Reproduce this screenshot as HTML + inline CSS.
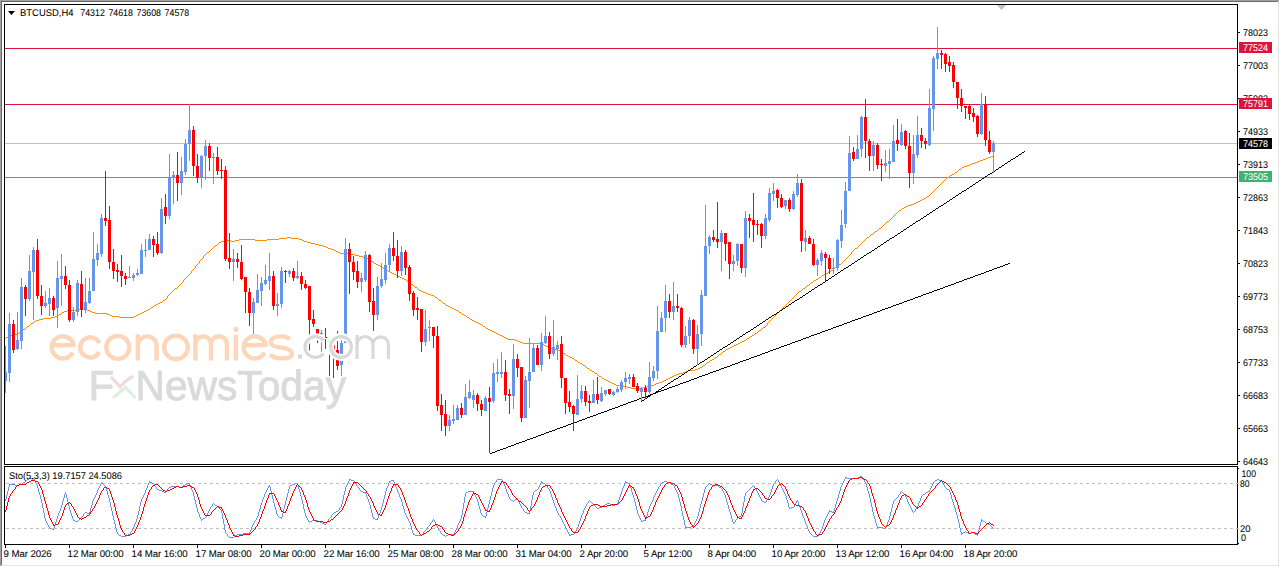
<!DOCTYPE html>
<html><head><meta charset="utf-8"><style>
html,body{margin:0;padding:0;background:#fff;width:1280px;height:567px;overflow:hidden}
text{font-family:"Liberation Sans",sans-serif;text-rendering:geometricPrecision}
.sm{stroke-width:0.2px}
.tl{letter-spacing:-0.1px}
</style></head><body>
<svg width="1280" height="567" viewBox="0 0 1280 567" style="display:block;font-family:'Liberation Sans', sans-serif">
<rect x="0" y="0" width="1280" height="567" fill="#ffffff" />
<rect x="0" y="0" width="1279" height="1" fill="#a0a0a0" />
<rect x="0" y="0" width="1" height="566" fill="#a0a0a0" />
<rect x="1" y="1" width="1277" height="1" fill="#696969" />
<rect x="1" y="1" width="1" height="564" fill="#696969" />
<rect x="1278" y="1" width="1" height="565" fill="#e3e3e3" />
<rect x="1" y="565" width="1278" height="1" fill="#e3e3e3" />
<g shape-rendering="crispEdges">
<rect x="5" y="48" width="1232" height="1" fill="#dc143c" />
<rect x="5" y="104" width="1232" height="1" fill="#dc143c" />
<rect x="5" y="143" width="1232" height="1" fill="#c0c0c0" />
<rect x="5" y="177" width="1232" height="1" fill="#3cb371" />
</g>
<polygon points="997,5 1006,5 1001.5,10" fill="#c0c0c0"/>
<g shape-rendering="crispEdges">
<path fill="#ff8c00" d="M991,156h3v1h-3zM988,157h3v1h-3zM986,158h2v1h-2zM983,159h3v1h-3zM980,160h3v1h-3zM978,161h2v1h-2zM975,162h3v1h-3zM972,163h3v1h-3zM970,164h2v1h-2zM967,165h3v1h-3zM964,166h3v1h-3zM962,167h2v1h-2zM961,168h1v1h-1zM959,169h2v1h-2zM958,170h1v1h-1zM957,171h1v1h-1zM955,172h2v1h-2zM954,173h1v1h-1zM952,174h2v1h-2zM950,175h2v1h-2zM949,176h1v1h-1zM947,177h2v1h-2zM946,178h1v1h-1zM945,179h1v1h-1zM944,180h1v1h-1zM943,181h1v1h-1zM942,182h1v1h-1zM941,183h1v1h-1zM940,184h1v1h-1zM939,185h1v1h-1zM938,186h1v1h-1zM937,187h1v1h-1zM936,188h1v1h-1zM935,189h1v1h-1zM934,190h1v1h-1zM933,191h1v1h-1zM932,192h1v1h-1zM931,193h1v1h-1zM930,194h1v1h-1zM929,195h1v1h-1zM927,196h2v1h-2zM926,197h1v1h-1zM924,198h2v1h-2zM922,199h2v1h-2zM920,200h2v1h-2zM918,201h2v1h-2zM916,202h2v1h-2zM914,203h2v1h-2zM911,204h3v1h-3zM908,205h3v1h-3zM906,206h2v1h-2zM904,207h2v1h-2zM902,208h2v1h-2zM901,209h1v1h-1zM899,210h2v1h-2zM898,211h1v1h-1zM897,212h1v1h-1zM896,213h1v1h-1zM895,214h1v1h-1zM894,215h1v1h-1zM893,216h1v1h-1zM892,217h1v1h-1zM891,218h1v1h-1zM890,219h1v1h-1zM889,220h1v1h-1zM887,221h2v1h-2zM886,222h1v1h-1zM885,223h1v1h-1zM884,224h1v1h-1zM883,225h1v1h-1zM882,226h1v1h-1zM881,227h1v1h-1zM879,228h2v1h-2zM878,229h1v1h-1zM877,230h1v1h-1zM875,231h2v1h-2zM874,232h1v1h-1zM873,233h1v1h-1zM871,234h2v1h-2zM870,235h1v1h-1zM869,236h1v1h-1zM287,237h4v1h-4zM867,237h2v1h-2zM279,238h8v1h-8zM291,238h8v1h-8zM866,238h1v1h-1zM239,239h16v1h-16zM267,239h12v1h-12zM299,239h3v1h-3zM865,239h1v1h-1zM227,240h4v1h-4zM235,240h4v1h-4zM255,240h12v1h-12zM302,240h2v1h-2zM864,240h1v1h-1zM221,241h6v1h-6zM231,241h4v1h-4zM304,241h3v1h-3zM863,241h1v1h-1zM219,242h2v1h-2zM307,242h4v1h-4zM862,242h1v1h-1zM218,243h1v1h-1zM311,243h4v1h-4zM861,243h1v1h-1zM217,244h1v1h-1zM315,244h4v1h-4zM860,244h1v1h-1zM215,245h2v1h-2zM319,245h4v1h-4zM859,245h1v1h-1zM214,246h1v1h-1zM323,246h3v1h-3zM858,246h1v1h-1zM213,247h1v1h-1zM326,247h2v1h-2zM857,247h1v1h-1zM212,248h1v1h-1zM328,248h3v1h-3zM855,248h2v1h-2zM211,249h1v1h-1zM331,249h3v1h-3zM854,249h1v1h-1zM210,250h1v1h-1zM334,250h2v1h-2zM853,250h1v1h-1zM209,251h1v1h-1zM336,251h2v1h-2zM852,251h1v1h-1zM207,252h2v1h-2zM338,252h2v1h-2zM851,252h1v1h-1zM206,253h1v1h-1zM340,253h11v1h-11zM851,253h1v1h-1zM205,254h1v1h-1zM351,254h4v1h-4zM850,254h1v1h-1zM204,255h1v1h-1zM355,255h4v1h-4zM849,255h1v1h-1zM203,256h1v1h-1zM359,256h4v1h-4zM848,256h1v1h-1zM203,257h1v1h-1zM363,257h3v1h-3zM847,257h1v1h-1zM202,258h1v1h-1zM366,258h2v1h-2zM846,258h1v1h-1zM201,259h1v1h-1zM368,259h2v1h-2zM845,259h1v1h-1zM200,260h1v1h-1zM370,260h1v1h-1zM844,260h1v1h-1zM199,261h1v1h-1zM371,261h2v1h-2zM843,261h1v1h-1zM199,262h1v1h-1zM373,262h1v1h-1zM842,262h1v1h-1zM198,263h1v1h-1zM374,263h2v1h-2zM841,263h1v1h-1zM197,264h1v1h-1zM376,264h2v1h-2zM839,264h2v1h-2zM196,265h1v1h-1zM378,265h2v1h-2zM838,265h1v1h-1zM195,266h1v1h-1zM380,266h2v1h-2zM837,266h1v1h-1zM195,267h1v1h-1zM382,267h1v1h-1zM835,267h2v1h-2zM194,268h1v1h-1zM383,268h2v1h-2zM834,268h1v1h-1zM193,269h1v1h-1zM385,269h1v1h-1zM833,269h1v1h-1zM192,270h1v1h-1zM386,270h2v1h-2zM831,270h2v1h-2zM191,271h1v1h-1zM388,271h2v1h-2zM830,271h1v1h-1zM191,272h1v1h-1zM390,272h2v1h-2zM828,272h2v1h-2zM190,273h1v1h-1zM392,273h2v1h-2zM826,273h2v1h-2zM189,274h1v1h-1zM394,274h2v1h-2zM824,274h2v1h-2zM188,275h1v1h-1zM396,275h2v1h-2zM822,275h2v1h-2zM187,276h1v1h-1zM398,276h2v1h-2zM821,276h1v1h-1zM186,277h1v1h-1zM400,277h2v1h-2zM819,277h2v1h-2zM185,278h1v1h-1zM402,278h2v1h-2zM818,278h1v1h-1zM184,279h1v1h-1zM404,279h2v1h-2zM816,279h2v1h-2zM183,280h1v1h-1zM406,280h1v1h-1zM814,280h2v1h-2zM183,281h1v1h-1zM407,281h2v1h-2zM813,281h1v1h-1zM182,282h1v1h-1zM409,282h1v1h-1zM811,282h2v1h-2zM181,283h1v1h-1zM410,283h1v1h-1zM810,283h1v1h-1zM180,284h1v1h-1zM411,284h2v1h-2zM809,284h1v1h-1zM179,285h1v1h-1zM413,285h1v1h-1zM807,285h2v1h-2zM178,286h1v1h-1zM414,286h1v1h-1zM806,286h1v1h-1zM177,287h1v1h-1zM415,287h2v1h-2zM805,287h1v1h-1zM175,288h2v1h-2zM417,288h1v1h-1zM803,288h2v1h-2zM174,289h1v1h-1zM418,289h1v1h-1zM802,289h1v1h-1zM173,290h1v1h-1zM419,290h2v1h-2zM801,290h1v1h-1zM172,291h1v1h-1zM421,291h2v1h-2zM799,291h2v1h-2zM171,292h1v1h-1zM423,292h3v1h-3zM798,292h1v1h-1zM170,293h1v1h-1zM426,293h2v1h-2zM797,293h1v1h-1zM169,294h1v1h-1zM428,294h3v1h-3zM796,294h1v1h-1zM168,295h1v1h-1zM431,295h3v1h-3zM795,295h1v1h-1zM167,296h1v1h-1zM434,296h1v1h-1zM794,296h1v1h-1zM167,297h1v1h-1zM435,297h2v1h-2zM793,297h1v1h-1zM166,298h1v1h-1zM437,298h1v1h-1zM792,298h1v1h-1zM165,299h1v1h-1zM438,299h1v1h-1zM791,299h1v1h-1zM163,300h2v1h-2zM439,300h2v1h-2zM790,300h1v1h-1zM162,301h1v1h-1zM441,301h1v1h-1zM789,301h1v1h-1zM160,302h2v1h-2zM442,302h1v1h-1zM788,302h1v1h-1zM158,303h2v1h-2zM443,303h2v1h-2zM787,303h1v1h-1zM156,304h2v1h-2zM445,304h1v1h-1zM786,304h1v1h-1zM154,305h2v1h-2zM446,305h2v1h-2zM785,305h1v1h-1zM153,306h1v1h-1zM448,306h2v1h-2zM784,306h1v1h-1zM151,307h2v1h-2zM450,307h2v1h-2zM783,307h1v1h-1zM150,308h1v1h-1zM452,308h2v1h-2zM782,308h1v1h-1zM79,309h8v1h-8zM148,309h2v1h-2zM454,309h2v1h-2zM781,309h1v1h-1zM67,310h12v1h-12zM87,310h3v1h-3zM146,310h2v1h-2zM456,310h2v1h-2zM780,310h1v1h-1zM64,311h3v1h-3zM90,311h2v1h-2zM144,311h2v1h-2zM458,311h1v1h-1zM779,311h1v1h-1zM62,312h2v1h-2zM92,312h3v1h-3zM142,312h2v1h-2zM459,312h2v1h-2zM778,312h1v1h-1zM61,313h1v1h-1zM95,313h12v1h-12zM140,313h2v1h-2zM461,313h1v1h-1zM777,313h1v1h-1zM59,314h2v1h-2zM107,314h3v1h-3zM138,314h2v1h-2zM462,314h2v1h-2zM776,314h1v1h-1zM58,315h1v1h-1zM110,315h2v1h-2zM136,315h2v1h-2zM464,315h2v1h-2zM775,315h1v1h-1zM55,316h3v1h-3zM112,316h7v1h-7zM134,316h2v1h-2zM466,316h1v1h-1zM774,316h1v1h-1zM51,317h4v1h-4zM119,317h15v1h-15zM467,317h2v1h-2zM773,317h1v1h-1zM43,318h8v1h-8zM469,318h1v1h-1zM772,318h1v1h-1zM39,319h4v1h-4zM470,319h2v1h-2zM771,319h1v1h-1zM36,320h3v1h-3zM472,320h2v1h-2zM770,320h1v1h-1zM34,321h2v1h-2zM474,321h2v1h-2zM769,321h1v1h-1zM33,322h1v1h-1zM476,322h2v1h-2zM768,322h1v1h-1zM31,323h2v1h-2zM478,323h2v1h-2zM767,323h1v1h-1zM30,324h1v1h-1zM480,324h2v1h-2zM767,324h1v1h-1zM29,325h1v1h-1zM482,325h1v1h-1zM766,325h1v1h-1zM27,326h2v1h-2zM483,326h2v1h-2zM765,326h1v1h-1zM26,327h1v1h-1zM485,327h1v1h-1zM763,327h2v1h-2zM25,328h1v1h-1zM486,328h2v1h-2zM762,328h1v1h-1zM23,329h2v1h-2zM488,329h2v1h-2zM761,329h1v1h-1zM22,330h1v1h-1zM490,330h2v1h-2zM759,330h2v1h-2zM21,331h1v1h-1zM492,331h2v1h-2zM758,331h1v1h-1zM19,332h2v1h-2zM494,332h2v1h-2zM757,332h1v1h-1zM18,333h1v1h-1zM496,333h2v1h-2zM755,333h2v1h-2zM15,334h3v1h-3zM498,334h2v1h-2zM754,334h1v1h-1zM11,335h4v1h-4zM500,335h2v1h-2zM752,335h2v1h-2zM8,336h3v1h-3zM502,336h2v1h-2zM750,336h2v1h-2zM6,337h2v1h-2zM504,337h2v1h-2zM749,337h1v1h-1zM5,338h1v1h-1zM506,338h2v1h-2zM747,338h2v1h-2zM508,339h7v1h-7zM746,339h1v1h-1zM515,340h3v1h-3zM744,340h2v1h-2zM518,341h2v1h-2zM742,341h2v1h-2zM520,342h3v1h-3zM740,342h2v1h-2zM523,343h19v1h-19zM738,343h2v1h-2zM542,344h2v1h-2zM736,344h2v1h-2zM544,345h2v1h-2zM734,345h2v1h-2zM546,346h2v1h-2zM732,346h2v1h-2zM548,347h3v1h-3zM730,347h2v1h-2zM551,348h4v1h-4zM728,348h2v1h-2zM555,349h3v1h-3zM726,349h2v1h-2zM558,350h2v1h-2zM725,350h1v1h-1zM560,351h2v1h-2zM723,351h2v1h-2zM562,352h1v1h-1zM722,352h1v1h-1zM563,353h2v1h-2zM721,353h1v1h-1zM565,354h1v1h-1zM719,354h2v1h-2zM566,355h2v1h-2zM718,355h1v1h-1zM568,356h2v1h-2zM717,356h1v1h-1zM570,357h2v1h-2zM715,357h2v1h-2zM572,358h2v1h-2zM714,358h1v1h-1zM574,359h1v1h-1zM712,359h2v1h-2zM575,360h2v1h-2zM710,360h2v1h-2zM577,361h1v1h-1zM709,361h1v1h-1zM578,362h2v1h-2zM707,362h2v1h-2zM580,363h2v1h-2zM706,363h1v1h-1zM582,364h1v1h-1zM705,364h1v1h-1zM583,365h2v1h-2zM703,365h2v1h-2zM585,366h1v1h-1zM702,366h1v1h-1zM586,367h1v1h-1zM700,367h2v1h-2zM587,368h2v1h-2zM698,368h2v1h-2zM589,369h1v1h-1zM695,369h3v1h-3zM590,370h2v1h-2zM688,370h7v1h-7zM592,371h2v1h-2zM686,371h2v1h-2zM594,372h1v1h-1zM683,372h3v1h-3zM595,373h2v1h-2zM679,373h4v1h-4zM597,374h1v1h-1zM676,374h3v1h-3zM598,375h1v1h-1zM674,375h2v1h-2zM599,376h2v1h-2zM672,376h2v1h-2zM601,377h1v1h-1zM670,377h2v1h-2zM602,378h2v1h-2zM668,378h2v1h-2zM604,379h2v1h-2zM666,379h2v1h-2zM606,380h2v1h-2zM664,380h2v1h-2zM608,381h2v1h-2zM662,381h2v1h-2zM610,382h2v1h-2zM659,382h3v1h-3zM612,383h2v1h-2zM656,383h3v1h-3zM614,384h2v1h-2zM654,384h2v1h-2zM616,385h7v1h-7zM651,385h3v1h-3zM623,386h4v1h-4zM647,386h4v1h-4zM627,387h4v1h-4zM643,387h4v1h-4zM631,388h12v1h-12z"/>
<path fill="#000" d="M1008,263h2v1h-2zM1005,264h3v1h-3zM1003,265h2v1h-2zM1000,266h3v1h-3zM997,267h3v1h-3zM994,268h3v1h-3zM992,269h2v1h-2zM989,270h3v1h-3zM986,271h3v1h-3zM984,272h2v1h-2zM981,273h3v1h-3zM978,274h3v1h-3zM975,275h3v1h-3zM973,276h2v1h-2zM970,277h3v1h-3zM967,278h3v1h-3zM964,279h3v1h-3zM962,280h2v1h-2zM959,281h3v1h-3zM956,282h3v1h-3zM954,283h2v1h-2zM951,284h3v1h-3zM948,285h3v1h-3zM945,286h3v1h-3zM943,287h2v1h-2zM940,288h3v1h-3zM937,289h3v1h-3zM934,290h3v1h-3zM932,291h2v1h-2zM929,292h3v1h-3zM926,293h3v1h-3zM923,294h3v1h-3zM921,295h2v1h-2zM918,296h3v1h-3zM915,297h3v1h-3zM913,298h2v1h-2zM910,299h3v1h-3zM907,300h3v1h-3zM904,301h3v1h-3zM902,302h2v1h-2zM899,303h3v1h-3zM896,304h3v1h-3zM893,305h3v1h-3zM891,306h2v1h-2zM888,307h3v1h-3zM885,308h3v1h-3zM882,309h3v1h-3zM880,310h2v1h-2zM877,311h3v1h-3zM874,312h3v1h-3zM872,313h2v1h-2zM869,314h3v1h-3zM866,315h3v1h-3zM863,316h3v1h-3zM861,317h2v1h-2zM858,318h3v1h-3zM855,319h3v1h-3zM852,320h3v1h-3zM850,321h2v1h-2zM847,322h3v1h-3zM844,323h3v1h-3zM842,324h2v1h-2zM839,325h3v1h-3zM836,326h3v1h-3zM833,327h3v1h-3zM831,328h2v1h-2zM828,329h3v1h-3zM825,330h3v1h-3zM822,331h3v1h-3zM820,332h2v1h-2zM817,333h3v1h-3zM814,334h3v1h-3zM811,335h3v1h-3zM809,336h2v1h-2zM806,337h3v1h-3zM803,338h3v1h-3zM801,339h2v1h-2zM798,340h3v1h-3zM795,341h3v1h-3zM792,342h3v1h-3zM790,343h2v1h-2zM787,344h3v1h-3zM784,345h3v1h-3zM781,346h3v1h-3zM779,347h2v1h-2zM776,348h3v1h-3zM773,349h3v1h-3zM770,350h3v1h-3zM768,351h2v1h-2zM765,352h3v1h-3zM762,353h3v1h-3zM760,354h2v1h-2zM757,355h3v1h-3zM754,356h3v1h-3zM751,357h3v1h-3zM749,358h2v1h-2zM746,359h3v1h-3zM743,360h3v1h-3zM740,361h3v1h-3zM738,362h2v1h-2zM735,363h3v1h-3zM732,364h3v1h-3zM730,365h2v1h-2zM727,366h3v1h-3zM724,367h3v1h-3zM721,368h3v1h-3zM719,369h2v1h-2zM716,370h3v1h-3zM713,371h3v1h-3zM710,372h3v1h-3zM708,373h2v1h-2zM705,374h3v1h-3zM702,375h3v1h-3zM699,376h3v1h-3zM697,377h2v1h-2zM694,378h3v1h-3zM691,379h3v1h-3zM689,380h2v1h-2zM686,381h3v1h-3zM683,382h3v1h-3zM680,383h3v1h-3zM678,384h2v1h-2zM675,385h3v1h-3zM672,386h3v1h-3zM669,387h3v1h-3zM667,388h2v1h-2zM664,389h3v1h-3zM661,390h3v1h-3zM658,391h3v1h-3zM656,392h2v1h-2zM653,393h3v1h-3zM650,394h3v1h-3zM648,395h2v1h-2zM645,396h3v1h-3zM642,397h3v1h-3zM639,398h3v1h-3zM637,399h2v1h-2zM634,400h3v1h-3zM631,401h3v1h-3zM628,402h3v1h-3zM626,403h2v1h-2zM623,404h3v1h-3zM620,405h3v1h-3zM618,406h2v1h-2zM615,407h3v1h-3zM612,408h3v1h-3zM609,409h3v1h-3zM607,410h2v1h-2zM604,411h3v1h-3zM601,412h3v1h-3zM598,413h3v1h-3zM596,414h2v1h-2zM593,415h3v1h-3zM590,416h3v1h-3zM587,417h3v1h-3zM585,418h2v1h-2zM582,419h3v1h-3zM579,420h3v1h-3zM577,421h2v1h-2zM574,422h3v1h-3zM571,423h3v1h-3zM568,424h3v1h-3zM566,425h2v1h-2zM563,426h3v1h-3zM560,427h3v1h-3zM557,428h3v1h-3zM555,429h2v1h-2zM552,430h3v1h-3zM549,431h3v1h-3zM546,432h3v1h-3zM544,433h2v1h-2zM541,434h3v1h-3zM538,435h3v1h-3zM536,436h2v1h-2zM533,437h3v1h-3zM530,438h3v1h-3zM527,439h3v1h-3zM525,440h2v1h-2zM522,441h3v1h-3zM519,442h3v1h-3zM516,443h3v1h-3zM514,444h2v1h-2zM511,445h3v1h-3zM508,446h3v1h-3zM506,447h2v1h-2zM503,448h3v1h-3zM500,449h3v1h-3zM497,450h3v1h-3zM495,451h2v1h-2zM492,452h3v1h-3zM490,453h2v1h-2z"/>
<path fill="#000" d="M1024,151h1v1h-1zM1022,152h2v1h-2zM1021,153h1v1h-1zM1019,154h2v1h-2zM1018,155h1v1h-1zM1016,156h2v1h-2zM1015,157h1v1h-1zM1013,158h2v1h-2zM1011,159h2v1h-2zM1010,160h1v1h-1zM1008,161h2v1h-2zM1007,162h1v1h-1zM1005,163h2v1h-2zM1004,164h1v1h-1zM1002,165h2v1h-2zM1001,166h1v1h-1zM999,167h2v1h-2zM998,168h1v1h-1zM996,169h2v1h-2zM995,170h1v1h-1zM993,171h2v1h-2zM992,172h1v1h-1zM990,173h2v1h-2zM988,174h2v1h-2zM987,175h1v1h-1zM985,176h2v1h-2zM984,177h1v1h-1zM982,178h2v1h-2zM981,179h1v1h-1zM979,180h2v1h-2zM978,181h1v1h-1zM976,182h2v1h-2zM975,183h1v1h-1zM973,184h2v1h-2zM972,185h1v1h-1zM970,186h2v1h-2zM969,187h1v1h-1zM967,188h2v1h-2zM966,189h1v1h-1zM964,190h2v1h-2zM962,191h2v1h-2zM961,192h1v1h-1zM959,193h2v1h-2zM958,194h1v1h-1zM956,195h2v1h-2zM955,196h1v1h-1zM953,197h2v1h-2zM952,198h1v1h-1zM950,199h2v1h-2zM949,200h1v1h-1zM947,201h2v1h-2zM946,202h1v1h-1zM944,203h2v1h-2zM943,204h1v1h-1zM941,205h2v1h-2zM939,206h2v1h-2zM938,207h1v1h-1zM936,208h2v1h-2zM935,209h1v1h-1zM933,210h2v1h-2zM932,211h1v1h-1zM930,212h2v1h-2zM929,213h1v1h-1zM927,214h2v1h-2zM926,215h1v1h-1zM924,216h2v1h-2zM923,217h1v1h-1zM921,218h2v1h-2zM920,219h1v1h-1zM918,220h2v1h-2zM916,221h2v1h-2zM915,222h1v1h-1zM913,223h2v1h-2zM912,224h1v1h-1zM910,225h2v1h-2zM909,226h1v1h-1zM907,227h2v1h-2zM906,228h1v1h-1zM904,229h2v1h-2zM903,230h1v1h-1zM901,231h2v1h-2zM900,232h1v1h-1zM898,233h2v1h-2zM897,234h1v1h-1zM895,235h2v1h-2zM894,236h1v1h-1zM892,237h2v1h-2zM890,238h2v1h-2zM889,239h1v1h-1zM887,240h2v1h-2zM886,241h1v1h-1zM884,242h2v1h-2zM883,243h1v1h-1zM881,244h2v1h-2zM880,245h1v1h-1zM878,246h2v1h-2zM877,247h1v1h-1zM875,248h2v1h-2zM874,249h1v1h-1zM872,250h2v1h-2zM871,251h1v1h-1zM869,252h2v1h-2zM867,253h2v1h-2zM866,254h1v1h-1zM864,255h2v1h-2zM863,256h1v1h-1zM861,257h2v1h-2zM860,258h1v1h-1zM858,259h2v1h-2zM857,260h1v1h-1zM855,261h2v1h-2zM854,262h1v1h-1zM852,263h2v1h-2zM851,264h1v1h-1zM849,265h2v1h-2zM848,266h1v1h-1zM846,267h2v1h-2zM844,268h2v1h-2zM843,269h1v1h-1zM841,270h2v1h-2zM840,271h1v1h-1zM838,272h2v1h-2zM837,273h1v1h-1zM835,274h2v1h-2zM834,275h1v1h-1zM832,276h2v1h-2zM831,277h1v1h-1zM829,278h2v1h-2zM828,279h1v1h-1zM826,280h2v1h-2zM825,281h1v1h-1zM823,282h2v1h-2zM822,283h1v1h-1zM820,284h2v1h-2zM818,285h2v1h-2zM817,286h1v1h-1zM815,287h2v1h-2zM814,288h1v1h-1zM812,289h2v1h-2zM811,290h1v1h-1zM809,291h2v1h-2zM808,292h1v1h-1zM806,293h2v1h-2zM805,294h1v1h-1zM803,295h2v1h-2zM802,296h1v1h-1zM800,297h2v1h-2zM799,298h1v1h-1zM797,299h2v1h-2zM795,300h2v1h-2zM794,301h1v1h-1zM792,302h2v1h-2zM791,303h1v1h-1zM789,304h2v1h-2zM788,305h1v1h-1zM786,306h2v1h-2zM785,307h1v1h-1zM783,308h2v1h-2zM782,309h1v1h-1zM780,310h2v1h-2zM779,311h1v1h-1zM777,312h2v1h-2zM776,313h1v1h-1zM774,314h2v1h-2zM772,315h2v1h-2zM771,316h1v1h-1zM769,317h2v1h-2zM768,318h1v1h-1zM766,319h2v1h-2zM765,320h1v1h-1zM763,321h2v1h-2zM762,322h1v1h-1zM760,323h2v1h-2zM759,324h1v1h-1zM757,325h2v1h-2zM756,326h1v1h-1zM754,327h2v1h-2zM753,328h1v1h-1zM751,329h2v1h-2zM750,330h1v1h-1zM748,331h2v1h-2zM746,332h2v1h-2zM745,333h1v1h-1zM743,334h2v1h-2zM742,335h1v1h-1zM740,336h2v1h-2zM739,337h1v1h-1zM737,338h2v1h-2zM736,339h1v1h-1zM734,340h2v1h-2zM733,341h1v1h-1zM731,342h2v1h-2zM730,343h1v1h-1zM728,344h2v1h-2zM727,345h1v1h-1zM725,346h2v1h-2zM723,347h2v1h-2zM722,348h1v1h-1zM720,349h2v1h-2zM719,350h1v1h-1zM717,351h2v1h-2zM716,352h1v1h-1zM714,353h2v1h-2zM713,354h1v1h-1zM711,355h2v1h-2zM710,356h1v1h-1zM708,357h2v1h-2zM707,358h1v1h-1zM705,359h2v1h-2zM704,360h1v1h-1zM702,361h2v1h-2zM700,362h2v1h-2zM699,363h1v1h-1zM697,364h2v1h-2zM696,365h1v1h-1zM694,366h2v1h-2zM693,367h1v1h-1zM691,368h2v1h-2zM690,369h1v1h-1zM688,370h2v1h-2zM687,371h1v1h-1zM685,372h2v1h-2zM684,373h1v1h-1zM682,374h2v1h-2zM681,375h1v1h-1zM679,376h2v1h-2zM678,377h1v1h-1zM676,378h2v1h-2zM674,379h2v1h-2zM673,380h1v1h-1zM671,381h2v1h-2zM670,382h1v1h-1zM668,383h2v1h-2zM667,384h1v1h-1zM665,385h2v1h-2zM664,386h1v1h-1zM662,387h2v1h-2zM661,388h1v1h-1zM659,389h2v1h-2zM658,390h1v1h-1zM656,391h2v1h-2zM655,392h1v1h-1zM653,393h2v1h-2zM651,394h2v1h-2zM650,395h1v1h-1zM648,396h2v1h-2zM647,397h1v1h-1zM645,398h2v1h-2zM644,399h1v1h-1zM642,400h2v1h-2zM641,401h1v1h-1z"/>
</g>
<g shape-rendering="crispEdges">
<path fill="#6495ed" d="M5,346h1v47h-1zM5,372h2v9h-2zM9,313h1v69h-1zM8,324h3v49h-3zM17,312h1v38h-1zM16,340h3v9h-3zM21,278h1v71h-1zM20,287h3v54h-3zM29,255h1v46h-1zM28,271h3v28h-3zM33,247h1v73h-1zM32,250h3v22h-3zM45,291h1v17h-1zM44,303h3v3h-3zM49,288h1v28h-1zM48,298h3v6h-3zM57,261h1v67h-1zM56,278h3v30h-3zM61,254h1v52h-1zM60,276h3v3h-3zM73,307h1v15h-1zM72,312h3v8h-3zM77,280h1v36h-1zM76,283h3v29h-3zM85,278h1v35h-1zM84,302h3v8h-3zM89,278h1v26h-1zM88,291h3v12h-3zM93,232h1v59h-1zM92,259h3v32h-3zM97,244h1v22h-1zM96,253h3v7h-3zM101,214h1v43h-1zM100,218h3v36h-3zM129,266h1v12h-1zM128,277h3v1h-3zM133,273h1v8h-1zM132,275h3v3h-3zM137,269h1v7h-1zM136,273h3v2h-3zM141,244h1v30h-1zM140,250h3v24h-3zM145,239h1v18h-1zM144,250h3v1h-3zM149,234h1v16h-1zM148,239h3v11h-3zM161,198h1v56h-1zM160,209h3v44h-3zM169,154h1v65h-1zM168,177h3v39h-3zM173,171h1v33h-1zM172,175h3v2h-3zM181,157h1v38h-1zM180,171h3v12h-3zM185,139h1v36h-1zM184,144h3v28h-3zM189,104h1v57h-1zM188,130h3v14h-3zM201,155h1v33h-1zM200,156h3v21h-3zM205,140h1v40h-1zM204,146h3v10h-3zM213,153h1v31h-1zM212,157h3v1h-3zM233,249h1v32h-1zM232,259h3v3h-3zM253,298h1v36h-1zM252,302h3v11h-3zM257,274h1v29h-1zM256,290h3v13h-3zM261,277h1v29h-1zM260,283h3v8h-3zM265,265h1v20h-1zM264,280h3v4h-3zM269,253h1v37h-1zM268,276h3v5h-3zM277,293h1v23h-1zM276,304h3v2h-3zM281,267h1v41h-1zM280,271h3v33h-3zM289,270h1v7h-1zM288,271h3v3h-3zM297,261h1v18h-1zM296,276h3v2h-3zM321,330h1v24h-1zM320,333h3v1h-3zM341,340h1v36h-1zM340,343h3v22h-3zM345,238h1v105h-1zM344,249h3v94h-3zM361,273h1v19h-1zM360,278h3v4h-3zM365,251h1v31h-1zM364,255h3v25h-3zM377,277h1v43h-1zM376,286h3v29h-3zM381,263h1v25h-1zM380,279h3v7h-3zM385,253h1v31h-1zM384,265h3v15h-3zM389,244h1v27h-1zM388,248h3v17h-3zM401,246h1v30h-1zM400,252h3v19h-3zM425,310h1v36h-1zM424,329h3v13h-3zM429,320h1v21h-1zM428,327h3v1h-3zM449,415h1v16h-1zM448,420h3v6h-3zM453,405h1v19h-1zM452,419h3v2h-3zM457,405h1v15h-1zM456,408h3v12h-3zM465,384h1v31h-1zM464,397h3v18h-3zM469,380h1v19h-1zM468,392h3v6h-3zM473,390h1v18h-1zM472,395h3v5h-3zM485,396h1v15h-1zM484,398h3v13h-3zM493,363h1v40h-1zM492,373h3v28h-3zM497,359h1v23h-1zM496,372h3v2h-3zM501,352h1v26h-1zM500,372h3v2h-3zM513,344h1v65h-1zM512,359h3v37h-3zM525,376h1v42h-1zM524,380h3v38h-3zM529,338h1v70h-1zM528,372h3v9h-3zM533,344h1v28h-1zM532,348h3v24h-3zM541,333h1v38h-1zM540,342h3v23h-3zM545,316h1v28h-1zM544,336h3v7h-3zM553,320h1v36h-1zM552,347h3v7h-3zM557,341h1v19h-1zM556,345h3v4h-3zM577,375h1v40h-1zM576,399h3v16h-3zM581,385h1v18h-1zM580,391h3v8h-3zM593,380h1v23h-1zM592,394h3v9h-3zM601,387h1v15h-1zM600,393h3v8h-3zM605,390h1v6h-1zM604,390h3v4h-3zM613,391h1v5h-1zM612,392h3v3h-3zM617,387h1v6h-1zM616,389h3v3h-3zM621,380h1v12h-1zM620,382h3v8h-3zM625,372h1v17h-1zM624,378h3v4h-3zM629,374h1v10h-1zM628,377h3v2h-3zM641,387h1v14h-1zM640,388h3v4h-3zM649,362h1v32h-1zM648,377h3v15h-3zM653,366h1v15h-1zM652,371h3v7h-3zM657,306h1v73h-1zM656,331h3v40h-3zM661,312h1v20h-1zM660,318h3v14h-3zM665,285h1v47h-1zM664,301h3v17h-3zM673,282h1v38h-1zM672,306h3v6h-3zM685,326h1v22h-1zM684,336h3v9h-3zM689,317h1v27h-1zM688,320h3v16h-3zM697,325h1v40h-1zM696,334h3v15h-3zM701,290h1v56h-1zM700,295h3v39h-3zM705,205h1v91h-1zM704,246h3v50h-3zM709,235h1v19h-1zM708,237h3v9h-3zM721,230h1v41h-1zM720,233h3v9h-3zM733,255h1v16h-1zM732,261h3v3h-3zM737,243h1v23h-1zM736,244h3v17h-3zM745,211h1v66h-1zM744,218h3v50h-3zM765,214h1v25h-1zM764,218h3v18h-3zM769,188h1v34h-1zM768,193h3v27h-3zM773,183h1v18h-1zM772,191h3v3h-3zM785,200h1v9h-1zM784,200h3v6h-3zM793,191h1v19h-1zM792,194h3v15h-3zM797,174h1v23h-1zM796,183h3v12h-3zM805,230h1v21h-1zM804,238h3v4h-3zM817,258h1v18h-1zM816,260h3v5h-3zM821,250h1v16h-1zM820,253h3v8h-3zM833,258h1v16h-1zM832,268h3v1h-3zM837,239h1v32h-1zM836,240h3v28h-3zM841,210h1v38h-1zM840,225h3v16h-3zM845,182h1v46h-1zM844,191h3v33h-3zM849,136h1v55h-1zM848,153h3v38h-3zM857,135h1v24h-1zM856,149h3v10h-3zM861,116h1v41h-1zM860,117h3v32h-3zM873,141h1v30h-1zM872,145h3v11h-3zM885,150h1v22h-1zM884,163h3v3h-3zM889,149h1v30h-1zM888,161h3v3h-3zM893,125h1v37h-1zM892,141h3v21h-3zM901,124h1v22h-1zM900,132h3v13h-3zM913,135h1v49h-1zM912,154h3v19h-3zM917,116h1v42h-1zM916,135h3v20h-3zM929,89h1v57h-1zM928,108h3v37h-3zM933,56h1v75h-1zM932,58h3v51h-3zM937,27h1v42h-1zM936,53h3v6h-3zM981,93h1v42h-1zM980,104h3v30h-3zM993,141h1v32h-1zM992,143h3v9h-3z"/><path fill="#ff0000" d="M13,320h1v33h-1zM12,324h3v26h-3zM25,285h1v31h-1zM24,287h3v12h-3zM37,239h1v60h-1zM36,250h3v46h-3zM41,285h1v30h-1zM40,296h3v10h-3zM53,296h1v20h-1zM52,298h3v12h-3zM65,266h1v23h-1zM64,276h3v9h-3zM69,280h1v42h-1zM68,285h3v35h-3zM81,271h1v46h-1zM80,284h3v26h-3zM105,171h1v55h-1zM104,218h3v3h-3zM109,206h1v63h-1zM108,220h3v42h-3zM113,249h1v30h-1zM112,262h3v9h-3zM117,264h1v18h-1zM116,270h3v2h-3zM121,255h1v32h-1zM120,271h3v5h-3zM125,273h1v12h-1zM124,276h3v3h-3zM153,236h1v21h-1zM152,239h3v6h-3zM157,232h1v23h-1zM156,244h3v9h-3zM165,194h1v30h-1zM164,207h3v9h-3zM177,152h1v49h-1zM176,175h3v8h-3zM193,126h1v50h-1zM192,130h3v36h-3zM197,154h1v29h-1zM196,166h3v12h-3zM209,143h1v28h-1zM208,146h3v12h-3zM217,147h1v28h-1zM216,157h3v14h-3zM221,159h1v20h-1zM220,170h3v1h-3zM225,166h1v95h-1zM224,170h3v89h-3zM229,233h1v36h-1zM228,258h3v4h-3zM237,253h1v15h-1zM236,259h3v3h-3zM241,245h1v35h-1zM240,262h3v17h-3zM245,277h1v36h-1zM244,277h3v15h-3zM249,288h1v38h-1zM248,292h3v21h-3zM273,271h1v39h-1zM272,276h3v30h-3zM285,270h1v13h-1zM284,271h3v1h-3zM293,268h1v13h-1zM292,271h3v7h-3zM301,272h1v18h-1zM300,276h3v8h-3zM305,280h1v9h-1zM304,284h3v4h-3zM309,286h1v67h-1zM308,286h3v34h-3zM313,310h1v17h-1zM312,319h3v5h-3zM317,329h1v14h-1zM316,329h3v5h-3zM325,328h1v21h-1zM324,337h3v1h-3zM329,341h1v35h-1zM328,341h3v4h-3zM333,345h1v33h-1zM332,345h3v7h-3zM337,331h1v39h-1zM336,350h3v16h-3zM349,243h1v51h-1zM348,249h3v13h-3zM353,256h1v24h-1zM352,262h3v10h-3zM357,261h1v27h-1zM356,271h3v11h-3zM369,254h1v58h-1zM368,255h3v47h-3zM373,288h1v43h-1zM372,301h3v14h-3zM393,232h1v29h-1zM392,248h3v8h-3zM397,240h1v38h-1zM396,256h3v15h-3zM405,250h1v25h-1zM404,252h3v16h-3zM409,265h1v36h-1zM408,267h3v27h-3zM413,291h1v25h-1zM412,293h3v17h-3zM417,297h1v23h-1zM416,308h3v2h-3zM421,309h1v43h-1zM420,309h3v33h-3zM433,327h1v21h-1zM432,327h3v9h-3zM437,326h1v85h-1zM436,336h3v70h-3zM441,394h1v37h-1zM440,405h3v10h-3zM445,400h1v36h-1zM444,414h3v12h-3zM461,403h1v15h-1zM460,408h3v7h-3zM477,393h1v18h-1zM476,395h3v9h-3zM481,400h1v16h-1zM480,404h3v6h-3zM489,387h1v66h-1zM488,398h3v4h-3zM505,360h1v41h-1zM504,372h3v23h-3zM509,389h1v25h-1zM508,394h3v2h-3zM517,354h1v23h-1zM516,359h3v9h-3zM521,367h1v55h-1zM520,367h3v51h-3zM537,345h1v20h-1zM536,348h3v17h-3zM549,332h1v27h-1zM548,336h3v18h-3zM561,336h1v52h-1zM560,344h3v34h-3zM565,378h1v36h-1zM564,378h3v25h-3zM569,391h1v21h-1zM568,402h3v5h-3zM573,405h1v26h-1zM572,406h3v8h-3zM585,386h1v20h-1zM584,391h3v11h-3zM589,395h1v17h-1zM588,401h3v2h-3zM597,377h1v27h-1zM596,394h3v6h-3zM609,389h1v6h-1zM608,389h3v5h-3zM633,374h1v13h-1zM632,377h3v10h-3zM637,383h1v10h-1zM636,386h3v5h-3zM645,385h1v14h-1zM644,388h3v4h-3zM669,294h1v24h-1zM668,301h3v11h-3zM677,294h1v18h-1zM676,306h3v2h-3zM681,307h1v40h-1zM680,308h3v37h-3zM693,319h1v35h-1zM692,320h3v29h-3zM713,230h1v12h-1zM712,237h3v3h-3zM717,202h1v46h-1zM716,239h3v3h-3zM725,233h1v28h-1zM724,233h3v11h-3zM729,242h1v37h-1zM728,242h3v22h-3zM741,244h1v29h-1zM740,244h3v24h-3zM749,214h1v24h-1zM748,218h3v3h-3zM753,193h1v49h-1zM752,220h3v5h-3zM757,220h1v15h-1zM756,224h3v1h-3zM761,223h1v25h-1zM760,224h3v12h-3zM777,189h1v19h-1zM776,190h3v8h-3zM781,194h1v14h-1zM780,198h3v9h-3zM789,198h1v14h-1zM788,200h3v9h-3zM801,179h1v73h-1zM800,183h3v58h-3zM809,236h1v8h-1zM808,238h3v6h-3zM813,239h1v27h-1zM812,244h3v21h-3zM825,252h1v29h-1zM824,254h3v4h-3zM829,255h1v19h-1zM828,258h3v11h-3zM853,147h1v14h-1zM852,152h3v7h-3zM865,99h1v59h-1zM864,117h3v24h-3zM869,139h1v32h-1zM868,141h3v15h-3zM877,143h1v26h-1zM876,145h3v20h-3zM881,159h1v22h-1zM880,164h3v1h-3zM897,119h1v32h-1zM896,140h3v4h-3zM905,130h1v19h-1zM904,131h3v15h-3zM909,133h1v55h-1zM908,146h3v27h-3zM921,128h1v20h-1zM920,135h3v6h-3zM925,138h1v11h-1zM924,141h3v3h-3zM941,50h1v19h-1zM940,53h3v2h-3zM945,53h1v19h-1zM944,54h3v10h-3zM949,56h1v16h-1zM948,62h3v4h-3zM953,62h1v26h-1zM952,65h3v17h-3zM957,82h1v27h-1zM956,82h3v16h-3zM961,89h1v23h-1zM960,98h3v8h-3zM965,106h1v13h-1zM964,106h3v2h-3zM969,104h1v16h-1zM968,106h3v8h-3zM973,108h1v14h-1zM972,113h3v4h-3zM977,115h1v22h-1zM976,116h3v18h-3zM985,96h1v50h-1zM984,104h3v36h-3zM989,131h1v23h-1zM988,140h3v12h-3z"/>
</g>
<filter id="wmb" x="-5%" y="-20%" width="110%" height="140%"><feGaussianBlur stdDeviation="0.45"/></filter>
<g filter="url(#wmb)" fill="none" stroke-linecap="butt">
<path d="M73.94,346.24A11.1,11.1 0 1 0 72.70,352.61M51.80,345.10H75.00M99.38,342.97A10.1,10.1 0 1 0 99.22,352.14M106.30,347.40a11.5,11.5 0 1 0 23.00,0a11.5,11.5 0 1 0 -23.00,0M137.8,334.2V360.6M137.8,345.80A9.4,9.4 0 0 1 156.6,345.80V360.6M164.20,347.40a11.8,11.8 0 1 0 23.60,0a11.8,11.8 0 1 0 -23.60,0M195.5,334.2V360.6M195.5,344.15A7.75,7.75 0 0 1 211,344.15V360.6M211,344.15A7.95,7.95 0 0 1 226.9,344.15V360.6M235.8,334.8V360.6M265.84,346.24A11.1,11.1 0 1 0 264.60,352.61M243.70,345.10H266.90M289.6,339.4C287.5,337 284.5,336.4 281.3,336.4C275,336.4 270.8,338.6 270.8,342.2C270.8,346 275.8,347 281.3,347.6C287.2,348.3 291.9,350.2 291.9,354C291.9,357.4 287.5,358.4 281.3,358.4C276.5,358.4 272.5,357.4 270.3,354.4" stroke="#fdd5b9" stroke-width="4.4"/>
<circle cx="235.8" cy="329.3" r="2.6" fill="#fdd5b9"/>
<path d="M323.60,340.60A10.4,10.4 0 1 0 323.60,353.40M330.60,347.00a10.4,10.4 0 1 0 20.80,0a10.4,10.4 0 1 0 -20.80,0M357,335.0V359.0M357,344.55A8,8 0 0 1 373,344.55V359.0M373,344.55A7.7,7.7 0 0 1 388.4,344.55V359.0" stroke="#ffffff" stroke-width="7"/>
<path d="M323.60,340.60A10.4,10.4 0 1 0 323.60,353.40M330.60,347.00a10.4,10.4 0 1 0 20.80,0a10.4,10.4 0 1 0 -20.80,0M357,335.0V359.0M357,344.55A8,8 0 0 1 373,344.55V359.0M373,344.55A7.7,7.7 0 0 1 388.4,344.55V359.0" stroke="#d8d8d8" stroke-width="3.1"/>
<rect x="297.8" y="354.4" width="4.2" height="4.2" fill="#d8d8d8"/>
</g>
<text x="88.5" y="400" font-size="42" fill="#fff" text-anchor="start" stroke="#ffffff" stroke-width="3.5">F</text>
<text x="135.5" y="400" font-size="42" fill="#fff" text-anchor="start" textLength="210.5" lengthAdjust="spacingAndGlyphs" stroke="#ffffff" stroke-width="3.5">NewsToday</text>
<g filter="url(#wmb)">
<text x="88.5" y="400" font-size="42" fill="#dcdcdc" text-anchor="start" stroke="#dcdcdc" stroke-width="0.9">F</text>
<path d="M112,378 Q117,383 120,387 Q126,380 132,377" fill="none" stroke="#f3d9d9" stroke-width="3.2" stroke-linecap="round"/>
<path d="M114,397 Q120,392 125.5,387.5 Q130,392 134.5,397" fill="none" stroke="#dcefdc" stroke-width="3.2" stroke-linecap="round"/>
<text x="135.5" y="400" font-size="42" fill="#dadada" text-anchor="start" textLength="210.5" lengthAdjust="spacingAndGlyphs" stroke="#dadada" stroke-width="0.9">NewsToday</text>
</g>
<g shape-rendering="crispEdges">
<rect x="4" y="4" width="1234" height="1" fill="#000" />
<rect x="4" y="464" width="1234" height="1" fill="#000" />
<rect x="4" y="4" width="1" height="461" fill="#000" />
<rect x="1237" y="4" width="1" height="461" fill="#000" />
<rect x="4" y="466" width="1234" height="1" fill="#000" />
<rect x="4" y="544" width="1234" height="1" fill="#000" />
<rect x="4" y="466" width="1" height="79" fill="#000" />
<rect x="1237" y="466" width="1" height="79" fill="#000" />
<rect x="1238" y="32" width="2" height="1" fill="#000" />
<rect x="1238" y="65" width="2" height="1" fill="#000" />
<rect x="1238" y="98" width="2" height="1" fill="#000" />
<rect x="1238" y="131" width="2" height="1" fill="#000" />
<rect x="1238" y="164" width="2" height="1" fill="#000" />
<rect x="1238" y="197" width="2" height="1" fill="#000" />
<rect x="1238" y="230" width="2" height="1" fill="#000" />
<rect x="1238" y="263" width="2" height="1" fill="#000" />
<rect x="1238" y="296" width="2" height="1" fill="#000" />
<rect x="1238" y="329" width="2" height="1" fill="#000" />
<rect x="1238" y="362" width="2" height="1" fill="#000" />
<rect x="1238" y="395" width="2" height="1" fill="#000" />
<rect x="1238" y="428" width="2" height="1" fill="#000" />
<rect x="1238" y="461" width="2" height="1" fill="#000" />
<rect x="1238" y="468" width="1" height="1" fill="#000" />
<rect x="1238" y="543" width="1" height="1" fill="#000" />
<path fill="#c0c0c0" d="M6,483h3v1h-3zM12,483h3v1h-3zM18,483h3v1h-3zM24,483h3v1h-3zM30,483h3v1h-3zM36,483h3v1h-3zM42,483h3v1h-3zM48,483h3v1h-3zM54,483h3v1h-3zM60,483h3v1h-3zM66,483h3v1h-3zM72,483h3v1h-3zM78,483h3v1h-3zM84,483h3v1h-3zM90,483h3v1h-3zM96,483h3v1h-3zM102,483h3v1h-3zM108,483h3v1h-3zM114,483h3v1h-3zM120,483h3v1h-3zM126,483h3v1h-3zM132,483h3v1h-3zM138,483h3v1h-3zM144,483h3v1h-3zM150,483h3v1h-3zM156,483h3v1h-3zM162,483h3v1h-3zM168,483h3v1h-3zM174,483h3v1h-3zM180,483h3v1h-3zM186,483h3v1h-3zM192,483h3v1h-3zM198,483h3v1h-3zM204,483h3v1h-3zM210,483h3v1h-3zM216,483h3v1h-3zM222,483h3v1h-3zM228,483h3v1h-3zM234,483h3v1h-3zM240,483h3v1h-3zM246,483h3v1h-3zM252,483h3v1h-3zM258,483h3v1h-3zM264,483h3v1h-3zM270,483h3v1h-3zM276,483h3v1h-3zM282,483h3v1h-3zM288,483h3v1h-3zM294,483h3v1h-3zM300,483h3v1h-3zM306,483h3v1h-3zM312,483h3v1h-3zM318,483h3v1h-3zM324,483h3v1h-3zM330,483h3v1h-3zM336,483h3v1h-3zM342,483h3v1h-3zM348,483h3v1h-3zM354,483h3v1h-3zM360,483h3v1h-3zM366,483h3v1h-3zM372,483h3v1h-3zM378,483h3v1h-3zM384,483h3v1h-3zM390,483h3v1h-3zM396,483h3v1h-3zM402,483h3v1h-3zM408,483h3v1h-3zM414,483h3v1h-3zM420,483h3v1h-3zM426,483h3v1h-3zM432,483h3v1h-3zM438,483h3v1h-3zM444,483h3v1h-3zM450,483h3v1h-3zM456,483h3v1h-3zM462,483h3v1h-3zM468,483h3v1h-3zM474,483h3v1h-3zM480,483h3v1h-3zM486,483h3v1h-3zM492,483h3v1h-3zM498,483h3v1h-3zM504,483h3v1h-3zM510,483h3v1h-3zM516,483h3v1h-3zM522,483h3v1h-3zM528,483h3v1h-3zM534,483h3v1h-3zM540,483h3v1h-3zM546,483h3v1h-3zM552,483h3v1h-3zM558,483h3v1h-3zM564,483h3v1h-3zM570,483h3v1h-3zM576,483h3v1h-3zM582,483h3v1h-3zM588,483h3v1h-3zM594,483h3v1h-3zM600,483h3v1h-3zM606,483h3v1h-3zM612,483h3v1h-3zM618,483h3v1h-3zM624,483h3v1h-3zM630,483h3v1h-3zM636,483h3v1h-3zM642,483h3v1h-3zM648,483h3v1h-3zM654,483h3v1h-3zM660,483h3v1h-3zM666,483h3v1h-3zM672,483h3v1h-3zM678,483h3v1h-3zM684,483h3v1h-3zM690,483h3v1h-3zM696,483h3v1h-3zM702,483h3v1h-3zM708,483h3v1h-3zM714,483h3v1h-3zM720,483h3v1h-3zM726,483h3v1h-3zM732,483h3v1h-3zM738,483h3v1h-3zM744,483h3v1h-3zM750,483h3v1h-3zM756,483h3v1h-3zM762,483h3v1h-3zM768,483h3v1h-3zM774,483h3v1h-3zM780,483h3v1h-3zM786,483h3v1h-3zM792,483h3v1h-3zM798,483h3v1h-3zM804,483h3v1h-3zM810,483h3v1h-3zM816,483h3v1h-3zM822,483h3v1h-3zM828,483h3v1h-3zM834,483h3v1h-3zM840,483h3v1h-3zM846,483h3v1h-3zM852,483h3v1h-3zM858,483h3v1h-3zM864,483h3v1h-3zM870,483h3v1h-3zM876,483h3v1h-3zM882,483h3v1h-3zM888,483h3v1h-3zM894,483h3v1h-3zM900,483h3v1h-3zM906,483h3v1h-3zM912,483h3v1h-3zM918,483h3v1h-3zM924,483h3v1h-3zM930,483h3v1h-3zM936,483h3v1h-3zM942,483h3v1h-3zM948,483h3v1h-3zM954,483h3v1h-3zM960,483h3v1h-3zM966,483h3v1h-3zM972,483h3v1h-3zM978,483h3v1h-3zM984,483h3v1h-3zM990,483h3v1h-3zM996,483h3v1h-3zM1002,483h3v1h-3zM1008,483h3v1h-3zM1014,483h3v1h-3zM1020,483h3v1h-3zM1026,483h3v1h-3zM1032,483h3v1h-3zM1038,483h3v1h-3zM1044,483h3v1h-3zM1050,483h3v1h-3zM1056,483h3v1h-3zM1062,483h3v1h-3zM1068,483h3v1h-3zM1074,483h3v1h-3zM1080,483h3v1h-3zM1086,483h3v1h-3zM1092,483h3v1h-3zM1098,483h3v1h-3zM1104,483h3v1h-3zM1110,483h3v1h-3zM1116,483h3v1h-3zM1122,483h3v1h-3zM1128,483h3v1h-3zM1134,483h3v1h-3zM1140,483h3v1h-3zM1146,483h3v1h-3zM1152,483h3v1h-3zM1158,483h3v1h-3zM1164,483h3v1h-3zM1170,483h3v1h-3zM1176,483h3v1h-3zM1182,483h3v1h-3zM1188,483h3v1h-3zM1194,483h3v1h-3zM1200,483h3v1h-3zM1206,483h3v1h-3zM1212,483h3v1h-3zM1218,483h3v1h-3zM1224,483h3v1h-3zM1230,483h3v1h-3zM1236,483h3v1h-3z"/>
<path fill="#c0c0c0" d="M6,528h3v1h-3zM12,528h3v1h-3zM18,528h3v1h-3zM24,528h3v1h-3zM30,528h3v1h-3zM36,528h3v1h-3zM42,528h3v1h-3zM48,528h3v1h-3zM54,528h3v1h-3zM60,528h3v1h-3zM66,528h3v1h-3zM72,528h3v1h-3zM78,528h3v1h-3zM84,528h3v1h-3zM90,528h3v1h-3zM96,528h3v1h-3zM102,528h3v1h-3zM108,528h3v1h-3zM114,528h3v1h-3zM120,528h3v1h-3zM126,528h3v1h-3zM132,528h3v1h-3zM138,528h3v1h-3zM144,528h3v1h-3zM150,528h3v1h-3zM156,528h3v1h-3zM162,528h3v1h-3zM168,528h3v1h-3zM174,528h3v1h-3zM180,528h3v1h-3zM186,528h3v1h-3zM192,528h3v1h-3zM198,528h3v1h-3zM204,528h3v1h-3zM210,528h3v1h-3zM216,528h3v1h-3zM222,528h3v1h-3zM228,528h3v1h-3zM234,528h3v1h-3zM240,528h3v1h-3zM246,528h3v1h-3zM252,528h3v1h-3zM258,528h3v1h-3zM264,528h3v1h-3zM270,528h3v1h-3zM276,528h3v1h-3zM282,528h3v1h-3zM288,528h3v1h-3zM294,528h3v1h-3zM300,528h3v1h-3zM306,528h3v1h-3zM312,528h3v1h-3zM318,528h3v1h-3zM324,528h3v1h-3zM330,528h3v1h-3zM336,528h3v1h-3zM342,528h3v1h-3zM348,528h3v1h-3zM354,528h3v1h-3zM360,528h3v1h-3zM366,528h3v1h-3zM372,528h3v1h-3zM378,528h3v1h-3zM384,528h3v1h-3zM390,528h3v1h-3zM396,528h3v1h-3zM402,528h3v1h-3zM408,528h3v1h-3zM414,528h3v1h-3zM420,528h3v1h-3zM426,528h3v1h-3zM432,528h3v1h-3zM438,528h3v1h-3zM444,528h3v1h-3zM450,528h3v1h-3zM456,528h3v1h-3zM462,528h3v1h-3zM468,528h3v1h-3zM474,528h3v1h-3zM480,528h3v1h-3zM486,528h3v1h-3zM492,528h3v1h-3zM498,528h3v1h-3zM504,528h3v1h-3zM510,528h3v1h-3zM516,528h3v1h-3zM522,528h3v1h-3zM528,528h3v1h-3zM534,528h3v1h-3zM540,528h3v1h-3zM546,528h3v1h-3zM552,528h3v1h-3zM558,528h3v1h-3zM564,528h3v1h-3zM570,528h3v1h-3zM576,528h3v1h-3zM582,528h3v1h-3zM588,528h3v1h-3zM594,528h3v1h-3zM600,528h3v1h-3zM606,528h3v1h-3zM612,528h3v1h-3zM618,528h3v1h-3zM624,528h3v1h-3zM630,528h3v1h-3zM636,528h3v1h-3zM642,528h3v1h-3zM648,528h3v1h-3zM654,528h3v1h-3zM660,528h3v1h-3zM666,528h3v1h-3zM672,528h3v1h-3zM678,528h3v1h-3zM684,528h3v1h-3zM690,528h3v1h-3zM696,528h3v1h-3zM702,528h3v1h-3zM708,528h3v1h-3zM714,528h3v1h-3zM720,528h3v1h-3zM726,528h3v1h-3zM732,528h3v1h-3zM738,528h3v1h-3zM744,528h3v1h-3zM750,528h3v1h-3zM756,528h3v1h-3zM762,528h3v1h-3zM768,528h3v1h-3zM774,528h3v1h-3zM780,528h3v1h-3zM786,528h3v1h-3zM792,528h3v1h-3zM798,528h3v1h-3zM804,528h3v1h-3zM810,528h3v1h-3zM816,528h3v1h-3zM822,528h3v1h-3zM828,528h3v1h-3zM834,528h3v1h-3zM840,528h3v1h-3zM846,528h3v1h-3zM852,528h3v1h-3zM858,528h3v1h-3zM864,528h3v1h-3zM870,528h3v1h-3zM876,528h3v1h-3zM882,528h3v1h-3zM888,528h3v1h-3zM894,528h3v1h-3zM900,528h3v1h-3zM906,528h3v1h-3zM912,528h3v1h-3zM918,528h3v1h-3zM924,528h3v1h-3zM930,528h3v1h-3zM936,528h3v1h-3zM942,528h3v1h-3zM948,528h3v1h-3zM954,528h3v1h-3zM960,528h3v1h-3zM966,528h3v1h-3zM972,528h3v1h-3zM978,528h3v1h-3zM984,528h3v1h-3zM990,528h3v1h-3zM996,528h3v1h-3zM1002,528h3v1h-3zM1008,528h3v1h-3zM1014,528h3v1h-3zM1020,528h3v1h-3zM1026,528h3v1h-3zM1032,528h3v1h-3zM1038,528h3v1h-3zM1044,528h3v1h-3zM1050,528h3v1h-3zM1056,528h3v1h-3zM1062,528h3v1h-3zM1068,528h3v1h-3zM1074,528h3v1h-3zM1080,528h3v1h-3zM1086,528h3v1h-3zM1092,528h3v1h-3zM1098,528h3v1h-3zM1104,528h3v1h-3zM1110,528h3v1h-3zM1116,528h3v1h-3zM1122,528h3v1h-3zM1128,528h3v1h-3zM1134,528h3v1h-3zM1140,528h3v1h-3zM1146,528h3v1h-3zM1152,528h3v1h-3zM1158,528h3v1h-3zM1164,528h3v1h-3zM1170,528h3v1h-3zM1176,528h3v1h-3zM1182,528h3v1h-3zM1188,528h3v1h-3zM1194,528h3v1h-3zM1200,528h3v1h-3zM1206,528h3v1h-3zM1212,528h3v1h-3zM1218,528h3v1h-3zM1224,528h3v1h-3zM1230,528h3v1h-3zM1236,528h3v1h-3z"/>
<rect x="5" y="545" width="1" height="3" fill="#000" />
<rect x="69" y="545" width="1" height="3" fill="#000" />
<rect x="133" y="545" width="1" height="3" fill="#000" />
<rect x="197" y="545" width="1" height="3" fill="#000" />
<rect x="261" y="545" width="1" height="3" fill="#000" />
<rect x="325" y="545" width="1" height="3" fill="#000" />
<rect x="389" y="545" width="1" height="3" fill="#000" />
<rect x="453" y="545" width="1" height="3" fill="#000" />
<rect x="517" y="545" width="1" height="3" fill="#000" />
<rect x="581" y="545" width="1" height="3" fill="#000" />
<rect x="645" y="545" width="1" height="3" fill="#000" />
<rect x="709" y="545" width="1" height="3" fill="#000" />
<rect x="773" y="545" width="1" height="3" fill="#000" />
<rect x="837" y="545" width="1" height="3" fill="#000" />
<rect x="901" y="545" width="1" height="3" fill="#000" />
<rect x="965" y="545" width="1" height="3" fill="#000" />
</g>
<svg x="5" y="467" width="1232" height="77" viewBox="5 467 1232 77" overflow="hidden">
<g shape-rendering="crispEdges">
<path fill="#6495ed" d="M860,476h2v1h-2zM845,477h2v1h-2zM858,477h2v1h-2zM862,477h1v1h-1zM29,478h5v1h-5zM845,478h1v1h-1zM847,478h11v1h-11zM862,478h1v1h-1zM27,479h2v1h-2zM34,479h1v1h-1zM349,479h2v1h-2zM497,479h5v1h-5zM777,479h1v1h-1zM844,479h1v1h-1zM863,479h1v1h-1zM937,479h2v1h-2zM26,480h1v1h-1zM34,480h1v1h-1zM349,480h1v1h-1zM351,480h3v1h-3zM391,480h3v1h-3zM496,480h1v1h-1zM502,480h1v1h-1zM776,480h1v1h-1zM778,480h1v1h-1zM844,480h1v1h-1zM864,480h1v1h-1zM935,480h2v1h-2zM939,480h3v1h-3zM25,481h1v1h-1zM35,481h1v1h-1zM149,481h1v1h-1zM348,481h1v1h-1zM354,481h1v1h-1zM389,481h2v1h-2zM393,481h1v1h-1zM496,481h1v1h-1zM502,481h1v1h-1zM541,481h1v1h-1zM625,481h1v1h-1zM664,481h3v1h-3zM775,481h1v1h-1zM778,481h1v1h-1zM843,481h1v1h-1zM864,481h1v1h-1zM934,481h1v1h-1zM942,481h1v1h-1zM23,482h2v1h-2zM35,482h1v1h-1zM101,482h1v1h-1zM149,482h3v1h-3zM348,482h1v1h-1zM354,482h1v1h-1zM389,482h1v1h-1zM394,482h1v1h-1zM495,482h1v1h-1zM503,482h1v1h-1zM541,482h2v1h-2zM625,482h3v1h-3zM662,482h2v1h-2zM667,482h3v1h-3zM775,482h1v1h-1zM779,482h1v1h-1zM843,482h1v1h-1zM865,482h1v1h-1zM933,482h1v1h-1zM942,482h1v1h-1zM22,483h1v1h-1zM36,483h1v1h-1zM101,483h2v1h-2zM148,483h1v1h-1zM152,483h2v1h-2zM187,483h3v1h-3zM295,483h3v1h-3zM347,483h1v1h-1zM355,483h1v1h-1zM388,483h1v1h-1zM394,483h1v1h-1zM494,483h1v1h-1zM503,483h1v1h-1zM540,483h1v1h-1zM543,483h2v1h-2zM624,483h1v1h-1zM628,483h2v1h-2zM661,483h1v1h-1zM670,483h1v1h-1zM709,483h1v1h-1zM774,483h1v1h-1zM779,483h1v1h-1zM842,483h1v1h-1zM865,483h1v1h-1zM933,483h1v1h-1zM943,483h1v1h-1zM9,484h6v1h-6zM19,484h3v1h-3zM36,484h1v1h-1zM100,484h1v1h-1zM103,484h1v1h-1zM148,484h1v1h-1zM154,484h1v1h-1zM185,484h2v1h-2zM189,484h1v1h-1zM292,484h3v1h-3zM297,484h1v1h-1zM347,484h1v1h-1zM356,484h1v1h-1zM388,484h1v1h-1zM395,484h1v1h-1zM494,484h1v1h-1zM504,484h1v1h-1zM540,484h1v1h-1zM545,484h1v1h-1zM624,484h1v1h-1zM629,484h1v1h-1zM660,484h1v1h-1zM671,484h2v1h-2zM708,484h1v1h-1zM710,484h2v1h-2zM773,484h1v1h-1zM780,484h1v1h-1zM842,484h1v1h-1zM866,484h1v1h-1zM932,484h1v1h-1zM943,484h1v1h-1zM9,485h1v1h-1zM15,485h4v1h-4zM37,485h1v1h-1zM100,485h1v1h-1zM104,485h1v1h-1zM147,485h1v1h-1zM154,485h1v1h-1zM183,485h2v1h-2zM190,485h1v1h-1zM269,485h1v1h-1zM290,485h2v1h-2zM298,485h1v1h-1zM346,485h1v1h-1zM356,485h1v1h-1zM388,485h1v1h-1zM395,485h1v1h-1zM493,485h1v1h-1zM504,485h1v1h-1zM539,485h1v1h-1zM546,485h1v1h-1zM624,485h1v1h-1zM630,485h1v1h-1zM660,485h1v1h-1zM673,485h1v1h-1zM707,485h1v1h-1zM712,485h6v1h-6zM753,485h1v1h-1zM773,485h1v1h-1zM780,485h1v1h-1zM841,485h1v1h-1zM866,485h1v1h-1zM932,485h1v1h-1zM944,485h1v1h-1zM9,486h1v1h-1zM37,486h1v1h-1zM99,486h1v1h-1zM105,486h1v1h-1zM147,486h1v1h-1zM155,486h1v1h-1zM171,486h8v1h-8zM182,486h1v1h-1zM190,486h1v1h-1zM268,486h2v1h-2zM289,486h1v1h-1zM298,486h1v1h-1zM346,486h1v1h-1zM357,486h1v1h-1zM387,486h1v1h-1zM395,486h1v1h-1zM493,486h1v1h-1zM505,486h1v1h-1zM539,486h1v1h-1zM547,486h1v1h-1zM623,486h1v1h-1zM630,486h1v1h-1zM659,486h1v1h-1zM674,486h1v1h-1zM706,486h1v1h-1zM718,486h1v1h-1zM752,486h1v1h-1zM754,486h1v1h-1zM772,486h1v1h-1zM781,486h1v1h-1zM841,486h1v1h-1zM866,486h1v1h-1zM931,486h1v1h-1zM944,486h1v1h-1zM8,487h1v1h-1zM37,487h1v1h-1zM99,487h1v1h-1zM105,487h1v1h-1zM147,487h1v1h-1zM156,487h1v1h-1zM169,487h2v1h-2zM179,487h3v1h-3zM191,487h1v1h-1zM268,487h1v1h-1zM270,487h1v1h-1zM289,487h1v1h-1zM298,487h1v1h-1zM345,487h1v1h-1zM358,487h1v1h-1zM387,487h1v1h-1zM396,487h1v1h-1zM493,487h1v1h-1zM505,487h1v1h-1zM538,487h1v1h-1zM547,487h1v1h-1zM623,487h1v1h-1zM630,487h1v1h-1zM658,487h1v1h-1zM674,487h1v1h-1zM705,487h1v1h-1zM719,487h2v1h-2zM751,487h1v1h-1zM754,487h1v1h-1zM772,487h1v1h-1zM781,487h1v1h-1zM840,487h1v1h-1zM867,487h1v1h-1zM931,487h1v1h-1zM945,487h1v1h-1zM8,488h1v1h-1zM38,488h1v1h-1zM98,488h1v1h-1zM106,488h1v1h-1zM146,488h1v1h-1zM156,488h1v1h-1zM168,488h1v1h-1zM191,488h1v1h-1zM267,488h1v1h-1zM270,488h1v1h-1zM289,488h1v1h-1zM298,488h1v1h-1zM345,488h1v1h-1zM359,488h1v1h-1zM386,488h1v1h-1zM396,488h1v1h-1zM492,488h1v1h-1zM505,488h1v1h-1zM538,488h1v1h-1zM548,488h1v1h-1zM622,488h1v1h-1zM631,488h1v1h-1zM658,488h1v1h-1zM675,488h1v1h-1zM705,488h1v1h-1zM721,488h1v1h-1zM750,488h1v1h-1zM755,488h1v1h-1zM772,488h1v1h-1zM782,488h1v1h-1zM840,488h1v1h-1zM867,488h1v1h-1zM930,488h1v1h-1zM946,488h1v1h-1zM8,489h1v1h-1zM38,489h1v1h-1zM98,489h1v1h-1zM106,489h1v1h-1zM146,489h1v1h-1zM157,489h2v1h-2zM167,489h1v1h-1zM191,489h1v1h-1zM267,489h1v1h-1zM270,489h1v1h-1zM288,489h1v1h-1zM299,489h1v1h-1zM345,489h1v1h-1zM359,489h1v1h-1zM386,489h1v1h-1zM397,489h1v1h-1zM492,489h1v1h-1zM506,489h1v1h-1zM537,489h1v1h-1zM549,489h1v1h-1zM622,489h1v1h-1zM631,489h1v1h-1zM657,489h1v1h-1zM675,489h1v1h-1zM704,489h1v1h-1zM722,489h1v1h-1zM749,489h1v1h-1zM756,489h1v1h-1zM771,489h1v1h-1zM782,489h1v1h-1zM840,489h1v1h-1zM867,489h1v1h-1zM930,489h1v1h-1zM947,489h2v1h-2zM8,490h1v1h-1zM38,490h1v1h-1zM97,490h1v1h-1zM106,490h1v1h-1zM145,490h1v1h-1zM159,490h3v1h-3zM167,490h1v1h-1zM192,490h1v1h-1zM266,490h1v1h-1zM270,490h1v1h-1zM288,490h1v1h-1zM299,490h1v1h-1zM345,490h1v1h-1zM360,490h1v1h-1zM386,490h1v1h-1zM397,490h1v1h-1zM492,490h1v1h-1zM506,490h1v1h-1zM535,490h2v1h-2zM549,490h1v1h-1zM622,490h1v1h-1zM631,490h1v1h-1zM657,490h1v1h-1zM676,490h1v1h-1zM704,490h1v1h-1zM722,490h1v1h-1zM748,490h1v1h-1zM756,490h1v1h-1zM771,490h1v1h-1zM783,490h1v1h-1zM840,490h1v1h-1zM867,490h1v1h-1zM929,490h1v1h-1zM949,490h1v1h-1zM7,491h1v1h-1zM38,491h1v1h-1zM97,491h1v1h-1zM107,491h1v1h-1zM145,491h1v1h-1zM162,491h2v1h-2zM166,491h1v1h-1zM192,491h1v1h-1zM266,491h1v1h-1zM271,491h1v1h-1zM288,491h1v1h-1zM299,491h1v1h-1zM344,491h1v1h-1zM361,491h2v1h-2zM385,491h1v1h-1zM397,491h1v1h-1zM468,491h6v1h-6zM492,491h1v1h-1zM506,491h1v1h-1zM534,491h1v1h-1zM550,491h1v1h-1zM621,491h1v1h-1zM631,491h1v1h-1zM656,491h1v1h-1zM676,491h1v1h-1zM704,491h1v1h-1zM723,491h1v1h-1zM747,491h1v1h-1zM757,491h1v1h-1zM771,491h1v1h-1zM783,491h1v1h-1zM839,491h1v1h-1zM868,491h1v1h-1zM901,491h1v1h-1zM928,491h2v1h-2zM949,491h1v1h-1zM7,492h1v1h-1zM39,492h1v1h-1zM65,492h1v1h-1zM97,492h1v1h-1zM107,492h1v1h-1zM145,492h1v1h-1zM164,492h2v1h-2zM193,492h1v1h-1zM265,492h1v1h-1zM271,492h1v1h-1zM288,492h1v1h-1zM300,492h1v1h-1zM344,492h1v1h-1zM363,492h3v1h-3zM385,492h1v1h-1zM398,492h1v1h-1zM466,492h2v1h-2zM473,492h1v1h-1zM491,492h1v1h-1zM507,492h1v1h-1zM533,492h1v1h-1zM550,492h1v1h-1zM621,492h1v1h-1zM632,492h1v1h-1zM656,492h1v1h-1zM677,492h1v1h-1zM704,492h1v1h-1zM723,492h1v1h-1zM746,492h1v1h-1zM757,492h1v1h-1zM770,492h1v1h-1zM784,492h1v1h-1zM839,492h1v1h-1zM868,492h1v1h-1zM900,492h1v1h-1zM902,492h1v1h-1zM926,492h2v1h-2zM950,492h1v1h-1zM7,493h1v1h-1zM39,493h1v1h-1zM65,493h1v1h-1zM96,493h1v1h-1zM107,493h1v1h-1zM144,493h1v1h-1zM193,493h1v1h-1zM265,493h1v1h-1zM271,493h1v1h-1zM287,493h1v1h-1zM300,493h1v1h-1zM344,493h1v1h-1zM365,493h1v1h-1zM385,493h1v1h-1zM398,493h1v1h-1zM465,493h1v1h-1zM474,493h1v1h-1zM491,493h1v1h-1zM507,493h1v1h-1zM533,493h1v1h-1zM550,493h1v1h-1zM621,493h1v1h-1zM632,493h1v1h-1zM655,493h1v1h-1zM677,493h1v1h-1zM703,493h1v1h-1zM724,493h1v1h-1zM745,493h1v1h-1zM758,493h1v1h-1zM770,493h1v1h-1zM784,493h1v1h-1zM839,493h1v1h-1zM868,493h1v1h-1zM900,493h1v1h-1zM903,493h1v1h-1zM925,493h1v1h-1zM950,493h1v1h-1zM7,494h1v1h-1zM39,494h1v1h-1zM64,494h1v1h-1zM66,494h1v1h-1zM96,494h1v1h-1zM107,494h1v1h-1zM144,494h1v1h-1zM193,494h1v1h-1zM264,494h1v1h-1zM271,494h1v1h-1zM287,494h1v1h-1zM300,494h1v1h-1zM344,494h1v1h-1zM366,494h1v1h-1zM385,494h1v1h-1zM399,494h1v1h-1zM465,494h1v1h-1zM474,494h1v1h-1zM491,494h1v1h-1zM508,494h1v1h-1zM533,494h1v1h-1zM551,494h1v1h-1zM620,494h1v1h-1zM632,494h1v1h-1zM655,494h1v1h-1zM678,494h1v1h-1zM703,494h1v1h-1zM724,494h1v1h-1zM745,494h1v1h-1zM758,494h1v1h-1zM770,494h1v1h-1zM785,494h1v1h-1zM838,494h1v1h-1zM869,494h1v1h-1zM899,494h1v1h-1zM904,494h1v1h-1zM923,494h2v1h-2zM950,494h1v1h-1zM6,495h1v1h-1zM40,495h1v1h-1zM64,495h1v1h-1zM66,495h1v1h-1zM95,495h1v1h-1zM108,495h1v1h-1zM143,495h1v1h-1zM193,495h1v1h-1zM264,495h1v1h-1zM272,495h1v1h-1zM287,495h1v1h-1zM300,495h1v1h-1zM343,495h1v1h-1zM366,495h1v1h-1zM384,495h1v1h-1zM399,495h1v1h-1zM465,495h1v1h-1zM475,495h1v1h-1zM491,495h1v1h-1zM508,495h1v1h-1zM532,495h1v1h-1zM551,495h1v1h-1zM620,495h1v1h-1zM633,495h1v1h-1zM654,495h1v1h-1zM678,495h1v1h-1zM703,495h1v1h-1zM725,495h1v1h-1zM745,495h1v1h-1zM759,495h1v1h-1zM769,495h1v1h-1zM785,495h1v1h-1zM838,495h1v1h-1zM869,495h1v1h-1zM898,495h1v1h-1zM905,495h1v1h-1zM922,495h1v1h-1zM951,495h1v1h-1zM6,496h1v1h-1zM40,496h1v1h-1zM64,496h1v1h-1zM66,496h1v1h-1zM95,496h1v1h-1zM108,496h1v1h-1zM143,496h1v1h-1zM194,496h1v1h-1zM264,496h1v1h-1zM272,496h1v1h-1zM287,496h1v1h-1zM301,496h1v1h-1zM343,496h1v1h-1zM366,496h1v1h-1zM384,496h1v1h-1zM399,496h1v1h-1zM465,496h1v1h-1zM475,496h1v1h-1zM490,496h1v1h-1zM508,496h1v1h-1zM532,496h1v1h-1zM551,496h1v1h-1zM620,496h1v1h-1zM633,496h1v1h-1zM654,496h1v1h-1zM678,496h1v1h-1zM703,496h1v1h-1zM725,496h1v1h-1zM744,496h1v1h-1zM759,496h1v1h-1zM769,496h1v1h-1zM786,496h1v1h-1zM838,496h1v1h-1zM869,496h1v1h-1zM898,496h1v1h-1zM905,496h1v1h-1zM921,496h1v1h-1zM951,496h1v1h-1zM6,497h1v1h-1zM40,497h1v1h-1zM64,497h1v1h-1zM66,497h1v1h-1zM94,497h1v1h-1zM108,497h1v1h-1zM142,497h1v1h-1zM194,497h1v1h-1zM263,497h1v1h-1zM272,497h1v1h-1zM286,497h1v1h-1zM301,497h1v1h-1zM343,497h1v1h-1zM367,497h1v1h-1zM384,497h1v1h-1zM400,497h1v1h-1zM464,497h1v1h-1zM476,497h1v1h-1zM490,497h1v1h-1zM509,497h1v1h-1zM532,497h1v1h-1zM552,497h1v1h-1zM619,497h1v1h-1zM633,497h1v1h-1zM653,497h1v1h-1zM678,497h1v1h-1zM702,497h1v1h-1zM725,497h1v1h-1zM744,497h1v1h-1zM760,497h1v1h-1zM768,497h1v1h-1zM786,497h1v1h-1zM838,497h1v1h-1zM869,497h1v1h-1zM897,497h1v1h-1zM906,497h1v1h-1zM921,497h1v1h-1zM951,497h1v1h-1zM6,498h1v1h-1zM40,498h1v1h-1zM63,498h1v1h-1zM67,498h1v1h-1zM94,498h1v1h-1zM109,498h1v1h-1zM142,498h1v1h-1zM194,498h1v1h-1zM263,498h1v1h-1zM272,498h1v1h-1zM286,498h1v1h-1zM301,498h1v1h-1zM343,498h1v1h-1zM367,498h1v1h-1zM384,498h1v1h-1zM400,498h1v1h-1zM464,498h1v1h-1zM476,498h1v1h-1zM490,498h1v1h-1zM509,498h1v1h-1zM517,498h1v1h-1zM532,498h1v1h-1zM552,498h1v1h-1zM619,498h1v1h-1zM634,498h1v1h-1zM653,498h1v1h-1zM679,498h1v1h-1zM702,498h1v1h-1zM726,498h1v1h-1zM744,498h1v1h-1zM760,498h1v1h-1zM768,498h1v1h-1zM786,498h1v1h-1zM837,498h1v1h-1zM870,498h1v1h-1zM896,498h1v1h-1zM906,498h1v1h-1zM920,498h1v1h-1zM951,498h1v1h-1zM5,499h1v1h-1zM41,499h1v1h-1zM63,499h1v1h-1zM67,499h1v1h-1zM93,499h1v1h-1zM109,499h1v1h-1zM141,499h1v1h-1zM194,499h1v1h-1zM262,499h1v1h-1zM273,499h1v1h-1zM286,499h1v1h-1zM301,499h1v1h-1zM343,499h1v1h-1zM368,499h1v1h-1zM383,499h1v1h-1zM401,499h1v1h-1zM464,499h1v1h-1zM477,499h1v1h-1zM490,499h1v1h-1zM510,499h1v1h-1zM515,499h3v1h-3zM532,499h1v1h-1zM552,499h1v1h-1zM619,499h1v1h-1zM634,499h1v1h-1zM653,499h1v1h-1zM679,499h1v1h-1zM702,499h1v1h-1zM726,499h1v1h-1zM744,499h1v1h-1zM761,499h1v1h-1zM767,499h1v1h-1zM786,499h1v1h-1zM837,499h1v1h-1zM870,499h1v1h-1zM895,499h1v1h-1zM907,499h1v1h-1zM920,499h1v1h-1zM952,499h1v1h-1zM5,500h1v1h-1zM41,500h1v1h-1zM63,500h1v1h-1zM67,500h1v1h-1zM93,500h1v1h-1zM109,500h1v1h-1zM141,500h1v1h-1zM195,500h1v1h-1zM262,500h1v1h-1zM273,500h1v1h-1zM286,500h1v1h-1zM302,500h1v1h-1zM342,500h1v1h-1zM368,500h1v1h-1zM383,500h1v1h-1zM401,500h1v1h-1zM464,500h1v1h-1zM477,500h1v1h-1zM489,500h1v1h-1zM511,500h2v1h-2zM514,500h1v1h-1zM518,500h1v1h-1zM531,500h1v1h-1zM553,500h1v1h-1zM589,500h1v1h-1zM618,500h1v1h-1zM634,500h1v1h-1zM652,500h1v1h-1zM679,500h1v1h-1zM702,500h1v1h-1zM726,500h1v1h-1zM744,500h1v1h-1zM761,500h1v1h-1zM766,500h1v1h-1zM787,500h1v1h-1zM797,500h1v1h-1zM837,500h1v1h-1zM870,500h1v1h-1zM894,500h1v1h-1zM907,500h1v1h-1zM920,500h1v1h-1zM952,500h1v1h-1zM41,501h1v1h-1zM62,501h1v1h-1zM67,501h1v1h-1zM92,501h1v1h-1zM109,501h1v1h-1zM141,501h1v1h-1zM195,501h1v1h-1zM262,501h1v1h-1zM273,501h1v1h-1zM285,501h1v1h-1zM302,501h1v1h-1zM342,501h1v1h-1zM368,501h1v1h-1zM383,501h1v1h-1zM401,501h1v1h-1zM464,501h1v1h-1zM477,501h1v1h-1zM489,501h1v1h-1zM513,501h1v1h-1zM518,501h1v1h-1zM531,501h1v1h-1zM553,501h1v1h-1zM588,501h1v1h-1zM590,501h1v1h-1zM618,501h1v1h-1zM634,501h1v1h-1zM652,501h1v1h-1zM679,501h1v1h-1zM701,501h1v1h-1zM726,501h1v1h-1zM744,501h1v1h-1zM762,501h2v1h-2zM766,501h1v1h-1zM787,501h1v1h-1zM796,501h2v1h-2zM836,501h1v1h-1zM870,501h1v1h-1zM893,501h1v1h-1zM907,501h1v1h-1zM919,501h1v1h-1zM952,501h1v1h-1zM41,502h1v1h-1zM62,502h1v1h-1zM68,502h1v1h-1zM92,502h1v1h-1zM110,502h1v1h-1zM140,502h1v1h-1zM195,502h1v1h-1zM261,502h1v1h-1zM273,502h1v1h-1zM285,502h1v1h-1zM302,502h1v1h-1zM342,502h1v1h-1zM369,502h1v1h-1zM383,502h1v1h-1zM402,502h1v1h-1zM464,502h1v1h-1zM478,502h1v1h-1zM489,502h1v1h-1zM519,502h1v1h-1zM531,502h1v1h-1zM553,502h1v1h-1zM588,502h1v1h-1zM591,502h1v1h-1zM618,502h1v1h-1zM635,502h1v1h-1zM651,502h1v1h-1zM680,502h1v1h-1zM701,502h1v1h-1zM727,502h1v1h-1zM743,502h1v1h-1zM764,502h2v1h-2zM787,502h1v1h-1zM796,502h1v1h-1zM798,502h1v1h-1zM836,502h1v1h-1zM870,502h1v1h-1zM893,502h1v1h-1zM908,502h1v1h-1zM919,502h1v1h-1zM953,502h1v1h-1zM42,503h1v1h-1zM62,503h1v1h-1zM68,503h1v1h-1zM92,503h1v1h-1zM110,503h1v1h-1zM140,503h1v1h-1zM195,503h1v1h-1zM213,503h1v1h-1zM261,503h1v1h-1zM274,503h1v1h-1zM285,503h1v1h-1zM302,503h1v1h-1zM342,503h1v1h-1zM369,503h1v1h-1zM382,503h1v1h-1zM402,503h1v1h-1zM463,503h1v1h-1zM478,503h1v1h-1zM489,503h1v1h-1zM519,503h1v1h-1zM531,503h1v1h-1zM554,503h1v1h-1zM587,503h1v1h-1zM592,503h1v1h-1zM607,503h3v1h-3zM617,503h1v1h-1zM635,503h1v1h-1zM651,503h1v1h-1zM680,503h1v1h-1zM701,503h1v1h-1zM727,503h1v1h-1zM743,503h1v1h-1zM788,503h1v1h-1zM795,503h1v1h-1zM798,503h1v1h-1zM836,503h1v1h-1zM871,503h1v1h-1zM893,503h1v1h-1zM908,503h1v1h-1zM918,503h1v1h-1zM953,503h1v1h-1zM42,504h1v1h-1zM62,504h1v1h-1zM68,504h1v1h-1zM92,504h1v1h-1zM110,504h1v1h-1zM140,504h1v1h-1zM196,504h1v1h-1zM212,504h1v1h-1zM214,504h1v1h-1zM261,504h1v1h-1zM274,504h1v1h-1zM285,504h1v1h-1zM303,504h1v1h-1zM341,504h1v1h-1zM369,504h1v1h-1zM382,504h1v1h-1zM402,504h1v1h-1zM463,504h1v1h-1zM478,504h1v1h-1zM488,504h1v1h-1zM520,504h1v1h-1zM531,504h1v1h-1zM554,504h1v1h-1zM586,504h1v1h-1zM593,504h1v1h-1zM605,504h2v1h-2zM610,504h2v1h-2zM615,504h3v1h-3zM635,504h1v1h-1zM650,504h1v1h-1zM680,504h1v1h-1zM700,504h1v1h-1zM727,504h1v1h-1zM743,504h1v1h-1zM788,504h1v1h-1zM795,504h1v1h-1zM798,504h1v1h-1zM835,504h1v1h-1zM871,504h1v1h-1zM892,504h1v1h-1zM909,504h1v1h-1zM918,504h1v1h-1zM953,504h1v1h-1zM42,505h1v1h-1zM61,505h1v1h-1zM68,505h1v1h-1zM91,505h1v1h-1zM110,505h1v1h-1zM140,505h1v1h-1zM196,505h1v1h-1zM212,505h1v1h-1zM215,505h2v1h-2zM260,505h1v1h-1zM274,505h1v1h-1zM284,505h1v1h-1zM303,505h1v1h-1zM341,505h1v1h-1zM370,505h1v1h-1zM382,505h1v1h-1zM402,505h1v1h-1zM463,505h1v1h-1zM478,505h1v1h-1zM488,505h1v1h-1zM520,505h1v1h-1zM531,505h1v1h-1zM554,505h1v1h-1zM586,505h1v1h-1zM594,505h1v1h-1zM603,505h2v1h-2zM612,505h3v1h-3zM635,505h1v1h-1zM650,505h1v1h-1zM680,505h1v1h-1zM700,505h1v1h-1zM728,505h1v1h-1zM743,505h1v1h-1zM788,505h1v1h-1zM794,505h1v1h-1zM799,505h1v1h-1zM835,505h1v1h-1zM871,505h1v1h-1zM892,505h1v1h-1zM909,505h1v1h-1zM918,505h1v1h-1zM954,505h1v1h-1zM42,506h1v1h-1zM61,506h1v1h-1zM69,506h1v1h-1zM91,506h1v1h-1zM110,506h1v1h-1zM139,506h1v1h-1zM196,506h1v1h-1zM211,506h1v1h-1zM217,506h1v1h-1zM260,506h1v1h-1zM274,506h1v1h-1zM284,506h1v1h-1zM303,506h1v1h-1zM341,506h1v1h-1zM370,506h1v1h-1zM382,506h1v1h-1zM403,506h1v1h-1zM463,506h1v1h-1zM479,506h1v1h-1zM488,506h1v1h-1zM521,506h1v1h-1zM530,506h1v1h-1zM555,506h1v1h-1zM585,506h1v1h-1zM595,506h1v1h-1zM602,506h1v1h-1zM636,506h1v1h-1zM649,506h1v1h-1zM681,506h1v1h-1zM700,506h1v1h-1zM728,506h1v1h-1zM743,506h1v1h-1zM788,506h1v1h-1zM794,506h1v1h-1zM799,506h1v1h-1zM835,506h1v1h-1zM871,506h1v1h-1zM892,506h1v1h-1zM910,506h1v1h-1zM917,506h1v1h-1zM954,506h1v1h-1zM42,507h1v1h-1zM61,507h1v1h-1zM69,507h1v1h-1zM91,507h1v1h-1zM111,507h1v1h-1zM139,507h1v1h-1zM196,507h1v1h-1zM210,507h1v1h-1zM218,507h1v1h-1zM260,507h1v1h-1zM275,507h1v1h-1zM284,507h1v1h-1zM303,507h1v1h-1zM340,507h1v1h-1zM370,507h1v1h-1zM381,507h1v1h-1zM403,507h1v1h-1zM463,507h1v1h-1zM479,507h1v1h-1zM488,507h1v1h-1zM521,507h1v1h-1zM530,507h1v1h-1zM555,507h1v1h-1zM585,507h1v1h-1zM596,507h1v1h-1zM599,507h3v1h-3zM636,507h1v1h-1zM649,507h1v1h-1zM681,507h1v1h-1zM700,507h1v1h-1zM728,507h1v1h-1zM742,507h1v1h-1zM789,507h1v1h-1zM791,507h3v1h-3zM800,507h1v1h-1zM835,507h1v1h-1zM872,507h1v1h-1zM892,507h1v1h-1zM910,507h1v1h-1zM917,507h1v1h-1zM954,507h1v1h-1zM43,508h1v1h-1zM60,508h1v1h-1zM69,508h1v1h-1zM90,508h1v1h-1zM111,508h1v1h-1zM139,508h1v1h-1zM197,508h1v1h-1zM210,508h1v1h-1zM219,508h1v1h-1zM260,508h1v1h-1zM275,508h1v1h-1zM284,508h1v1h-1zM303,508h1v1h-1zM339,508h1v1h-1zM370,508h1v1h-1zM381,508h1v1h-1zM403,508h1v1h-1zM463,508h1v1h-1zM479,508h1v1h-1zM487,508h1v1h-1zM522,508h1v1h-1zM530,508h1v1h-1zM556,508h1v1h-1zM584,508h1v1h-1zM597,508h2v1h-2zM636,508h1v1h-1zM649,508h1v1h-1zM681,508h1v1h-1zM699,508h1v1h-1zM728,508h1v1h-1zM742,508h1v1h-1zM789,508h2v1h-2zM800,508h1v1h-1zM834,508h1v1h-1zM872,508h1v1h-1zM891,508h1v1h-1zM911,508h1v1h-1zM916,508h1v1h-1zM955,508h1v1h-1zM43,509h1v1h-1zM60,509h1v1h-1zM69,509h1v1h-1zM90,509h1v1h-1zM111,509h1v1h-1zM139,509h1v1h-1zM197,509h1v1h-1zM209,509h1v1h-1zM220,509h1v1h-1zM259,509h1v1h-1zM275,509h1v1h-1zM283,509h1v1h-1zM304,509h1v1h-1zM339,509h1v1h-1zM371,509h1v1h-1zM381,509h1v1h-1zM404,509h1v1h-1zM462,509h1v1h-1zM480,509h1v1h-1zM487,509h1v1h-1zM523,509h1v1h-1zM530,509h1v1h-1zM556,509h1v1h-1zM584,509h1v1h-1zM636,509h1v1h-1zM648,509h1v1h-1zM681,509h1v1h-1zM699,509h1v1h-1zM729,509h1v1h-1zM742,509h1v1h-1zM800,509h1v1h-1zM834,509h1v1h-1zM872,509h1v1h-1zM891,509h1v1h-1zM911,509h1v1h-1zM915,509h1v1h-1zM955,509h1v1h-1zM43,510h1v1h-1zM60,510h1v1h-1zM70,510h1v1h-1zM90,510h1v1h-1zM111,510h1v1h-1zM139,510h1v1h-1zM197,510h1v1h-1zM209,510h1v1h-1zM221,510h1v1h-1zM259,510h1v1h-1zM276,510h1v1h-1zM283,510h1v1h-1zM304,510h1v1h-1zM338,510h1v1h-1zM371,510h1v1h-1zM380,510h1v1h-1zM404,510h1v1h-1zM462,510h1v1h-1zM480,510h1v1h-1zM487,510h1v1h-1zM523,510h1v1h-1zM530,510h1v1h-1zM556,510h1v1h-1zM583,510h1v1h-1zM637,510h1v1h-1zM648,510h1v1h-1zM681,510h1v1h-1zM699,510h1v1h-1zM729,510h1v1h-1zM742,510h1v1h-1zM801,510h1v1h-1zM829,510h1v1h-1zM834,510h1v1h-1zM872,510h1v1h-1zM891,510h1v1h-1zM912,510h1v1h-1zM915,510h1v1h-1zM955,510h1v1h-1zM43,511h1v1h-1zM59,511h1v1h-1zM70,511h1v1h-1zM90,511h1v1h-1zM112,511h1v1h-1zM138,511h1v1h-1zM197,511h1v1h-1zM208,511h1v1h-1zM221,511h1v1h-1zM259,511h1v1h-1zM276,511h1v1h-1zM283,511h1v1h-1zM304,511h1v1h-1zM336,511h2v1h-2zM371,511h1v1h-1zM380,511h1v1h-1zM404,511h1v1h-1zM462,511h1v1h-1zM480,511h1v1h-1zM487,511h1v1h-1zM524,511h1v1h-1zM529,511h1v1h-1zM557,511h1v1h-1zM583,511h1v1h-1zM637,511h1v1h-1zM648,511h1v1h-1zM682,511h1v1h-1zM699,511h1v1h-1zM729,511h1v1h-1zM742,511h1v1h-1zM801,511h1v1h-1zM829,511h3v1h-3zM833,511h1v1h-1zM872,511h1v1h-1zM891,511h1v1h-1zM912,511h1v1h-1zM914,511h1v1h-1zM955,511h1v1h-1zM43,512h1v1h-1zM59,512h1v1h-1zM70,512h1v1h-1zM85,512h2v1h-2zM89,512h1v1h-1zM112,512h1v1h-1zM138,512h1v1h-1zM198,512h1v1h-1zM208,512h1v1h-1zM221,512h1v1h-1zM258,512h1v1h-1zM276,512h1v1h-1zM283,512h1v1h-1zM304,512h1v1h-1zM334,512h2v1h-2zM371,512h1v1h-1zM380,512h1v1h-1zM404,512h1v1h-1zM462,512h1v1h-1zM480,512h1v1h-1zM486,512h1v1h-1zM525,512h2v1h-2zM529,512h1v1h-1zM557,512h1v1h-1zM583,512h1v1h-1zM637,512h1v1h-1zM647,512h1v1h-1zM682,512h1v1h-1zM698,512h1v1h-1zM730,512h1v1h-1zM742,512h1v1h-1zM801,512h1v1h-1zM828,512h1v1h-1zM832,512h2v1h-2zM873,512h1v1h-1zM890,512h1v1h-1zM913,512h1v1h-1zM956,512h1v1h-1zM44,513h1v1h-1zM58,513h1v1h-1zM71,513h1v1h-1zM84,513h1v1h-1zM87,513h3v1h-3zM112,513h1v1h-1zM138,513h1v1h-1zM198,513h1v1h-1zM207,513h1v1h-1zM222,513h1v1h-1zM258,513h1v1h-1zM276,513h1v1h-1zM282,513h1v1h-1zM305,513h1v1h-1zM333,513h1v1h-1zM372,513h1v1h-1zM379,513h1v1h-1zM405,513h1v1h-1zM462,513h1v1h-1zM481,513h1v1h-1zM486,513h1v1h-1zM527,513h3v1h-3zM558,513h1v1h-1zM582,513h1v1h-1zM637,513h1v1h-1zM647,513h1v1h-1zM682,513h1v1h-1zM698,513h1v1h-1zM730,513h1v1h-1zM741,513h1v1h-1zM802,513h1v1h-1zM828,513h1v1h-1zM873,513h1v1h-1zM890,513h1v1h-1zM956,513h1v1h-1zM44,514h1v1h-1zM58,514h1v1h-1zM71,514h1v1h-1zM83,514h1v1h-1zM112,514h1v1h-1zM138,514h1v1h-1zM199,514h1v1h-1zM207,514h1v1h-1zM222,514h1v1h-1zM258,514h1v1h-1zM277,514h1v1h-1zM282,514h1v1h-1zM305,514h1v1h-1zM332,514h1v1h-1zM372,514h1v1h-1zM379,514h1v1h-1zM405,514h1v1h-1zM462,514h1v1h-1zM481,514h1v1h-1zM486,514h1v1h-1zM558,514h1v1h-1zM582,514h1v1h-1zM638,514h1v1h-1zM647,514h1v1h-1zM682,514h1v1h-1zM698,514h1v1h-1zM730,514h1v1h-1zM741,514h1v1h-1zM802,514h1v1h-1zM827,514h1v1h-1zM873,514h1v1h-1zM890,514h1v1h-1zM956,514h1v1h-1zM44,515h1v1h-1zM58,515h1v1h-1zM71,515h1v1h-1zM83,515h1v1h-1zM112,515h1v1h-1zM137,515h1v1h-1zM199,515h1v1h-1zM206,515h1v1h-1zM222,515h1v1h-1zM258,515h1v1h-1zM277,515h1v1h-1zM282,515h1v1h-1zM305,515h1v1h-1zM331,515h1v1h-1zM372,515h1v1h-1zM378,515h1v1h-1zM406,515h1v1h-1zM461,515h1v1h-1zM482,515h1v1h-1zM486,515h1v1h-1zM559,515h1v1h-1zM581,515h1v1h-1zM638,515h1v1h-1zM647,515h1v1h-1zM682,515h1v1h-1zM698,515h1v1h-1zM731,515h1v1h-1zM741,515h1v1h-1zM802,515h1v1h-1zM827,515h1v1h-1zM873,515h1v1h-1zM890,515h1v1h-1zM957,515h1v1h-1zM44,516h1v1h-1zM57,516h1v1h-1zM72,516h1v1h-1zM82,516h1v1h-1zM113,516h1v1h-1zM137,516h1v1h-1zM199,516h1v1h-1zM206,516h1v1h-1zM222,516h1v1h-1zM257,516h1v1h-1zM278,516h1v1h-1zM282,516h1v1h-1zM306,516h1v1h-1zM331,516h1v1h-1zM372,516h1v1h-1zM378,516h1v1h-1zM406,516h1v1h-1zM461,516h1v1h-1zM483,516h3v1h-3zM560,516h1v1h-1zM581,516h1v1h-1zM639,516h1v1h-1zM646,516h1v1h-1zM683,516h1v1h-1zM697,516h1v1h-1zM731,516h1v1h-1zM739,516h2v1h-2zM803,516h1v1h-1zM826,516h1v1h-1zM874,516h1v1h-1zM889,516h1v1h-1zM957,516h1v1h-1zM44,517h1v1h-1zM57,517h1v1h-1zM72,517h1v1h-1zM81,517h1v1h-1zM113,517h1v1h-1zM137,517h1v1h-1zM200,517h1v1h-1zM205,517h1v1h-1zM222,517h1v1h-1zM257,517h1v1h-1zM279,517h3v1h-3zM306,517h1v1h-1zM330,517h1v1h-1zM373,517h1v1h-1zM378,517h1v1h-1zM407,517h1v1h-1zM461,517h1v1h-1zM485,517h1v1h-1zM560,517h1v1h-1zM581,517h1v1h-1zM639,517h1v1h-1zM646,517h1v1h-1zM683,517h1v1h-1zM697,517h1v1h-1zM731,517h1v1h-1zM738,517h1v1h-1zM803,517h1v1h-1zM826,517h1v1h-1zM874,517h1v1h-1zM889,517h1v1h-1zM957,517h1v1h-1zM45,518h1v1h-1zM57,518h1v1h-1zM72,518h1v1h-1zM80,518h1v1h-1zM113,518h1v1h-1zM137,518h1v1h-1zM200,518h1v1h-1zM203,518h2v1h-2zM222,518h1v1h-1zM256,518h1v1h-1zM281,518h1v1h-1zM307,518h1v1h-1zM329,518h1v1h-1zM373,518h2v1h-2zM377,518h1v1h-1zM407,518h1v1h-1zM461,518h1v1h-1zM561,518h1v1h-1zM580,518h1v1h-1zM640,518h1v1h-1zM646,518h1v1h-1zM683,518h1v1h-1zM697,518h1v1h-1zM731,518h1v1h-1zM737,518h1v1h-1zM804,518h1v1h-1zM825,518h1v1h-1zM874,518h1v1h-1zM889,518h1v1h-1zM957,518h1v1h-1zM45,519h1v1h-1zM56,519h1v1h-1zM73,519h1v1h-1zM79,519h1v1h-1zM113,519h1v1h-1zM136,519h1v1h-1zM201,519h2v1h-2zM223,519h1v1h-1zM256,519h1v1h-1zM307,519h1v1h-1zM328,519h1v1h-1zM375,519h3v1h-3zM408,519h1v1h-1zM433,519h1v1h-1zM460,519h1v1h-1zM561,519h1v1h-1zM580,519h1v1h-1zM640,519h1v1h-1zM645,519h1v1h-1zM683,519h1v1h-1zM696,519h1v1h-1zM732,519h1v1h-1zM736,519h1v1h-1zM804,519h1v1h-1zM825,519h1v1h-1zM875,519h1v1h-1zM889,519h1v1h-1zM958,519h1v1h-1zM981,519h1v1h-1zM45,520h1v1h-1zM56,520h1v1h-1zM73,520h2v1h-2zM78,520h1v1h-1zM114,520h1v1h-1zM136,520h1v1h-1zM201,520h1v1h-1zM223,520h1v1h-1zM255,520h1v1h-1zM308,520h1v1h-1zM312,520h6v1h-6zM328,520h1v1h-1zM408,520h1v1h-1zM432,520h1v1h-1zM434,520h1v1h-1zM460,520h1v1h-1zM562,520h1v1h-1zM580,520h1v1h-1zM641,520h1v1h-1zM643,520h3v1h-3zM684,520h1v1h-1zM696,520h1v1h-1zM732,520h1v1h-1zM735,520h1v1h-1zM804,520h1v1h-1zM824,520h1v1h-1zM875,520h1v1h-1zM888,520h1v1h-1zM958,520h1v1h-1zM981,520h2v1h-2zM46,521h1v1h-1zM56,521h1v1h-1zM75,521h3v1h-3zM114,521h1v1h-1zM136,521h1v1h-1zM223,521h1v1h-1zM254,521h1v1h-1zM308,521h1v1h-1zM310,521h2v1h-2zM318,521h2v1h-2zM327,521h1v1h-1zM409,521h1v1h-1zM432,521h1v1h-1zM434,521h1v1h-1zM459,521h1v1h-1zM562,521h1v1h-1zM579,521h1v1h-1zM641,521h2v1h-2zM684,521h1v1h-1zM695,521h1v1h-1zM732,521h1v1h-1zM735,521h1v1h-1zM805,521h1v1h-1zM824,521h1v1h-1zM875,521h1v1h-1zM888,521h1v1h-1zM958,521h1v1h-1zM981,521h1v1h-1zM983,521h2v1h-2zM46,522h1v1h-1zM55,522h1v1h-1zM114,522h1v1h-1zM135,522h1v1h-1zM223,522h1v1h-1zM254,522h1v1h-1zM309,522h1v1h-1zM320,522h2v1h-2zM326,522h1v1h-1zM409,522h1v1h-1zM431,522h1v1h-1zM435,522h1v1h-1zM459,522h1v1h-1zM563,522h1v1h-1zM579,522h1v1h-1zM684,522h1v1h-1zM695,522h1v1h-1zM733,522h2v1h-2zM805,522h1v1h-1zM824,522h1v1h-1zM875,522h1v1h-1zM887,522h1v1h-1zM958,522h1v1h-1zM980,522h1v1h-1zM985,522h1v1h-1zM47,523h1v1h-1zM55,523h1v1h-1zM114,523h1v1h-1zM135,523h1v1h-1zM223,523h1v1h-1zM253,523h1v1h-1zM322,523h2v1h-2zM326,523h1v1h-1zM410,523h1v1h-1zM430,523h1v1h-1zM435,523h1v1h-1zM458,523h1v1h-1zM563,523h1v1h-1zM579,523h1v1h-1zM684,523h1v1h-1zM694,523h1v1h-1zM733,523h1v1h-1zM805,523h1v1h-1zM823,523h1v1h-1zM876,523h1v1h-1zM887,523h1v1h-1zM959,523h1v1h-1zM980,523h1v1h-1zM986,523h2v1h-2zM47,524h1v1h-1zM55,524h1v1h-1zM115,524h1v1h-1zM134,524h1v1h-1zM224,524h1v1h-1zM253,524h1v1h-1zM324,524h2v1h-2zM410,524h1v1h-1zM430,524h1v1h-1zM436,524h1v1h-1zM458,524h1v1h-1zM564,524h1v1h-1zM578,524h1v1h-1zM684,524h1v1h-1zM694,524h1v1h-1zM806,524h1v1h-1zM823,524h1v1h-1zM876,524h1v1h-1zM887,524h1v1h-1zM959,524h1v1h-1zM980,524h1v1h-1zM988,524h2v1h-2zM48,525h1v1h-1zM54,525h1v1h-1zM115,525h1v1h-1zM134,525h1v1h-1zM224,525h1v1h-1zM252,525h1v1h-1zM410,525h1v1h-1zM429,525h1v1h-1zM436,525h1v1h-1zM457,525h1v1h-1zM564,525h1v1h-1zM578,525h1v1h-1zM685,525h1v1h-1zM693,525h1v1h-1zM806,525h1v1h-1zM823,525h1v1h-1zM876,525h1v1h-1zM886,525h1v1h-1zM959,525h1v1h-1zM980,525h1v1h-1zM990,525h1v1h-1zM48,526h1v1h-1zM54,526h1v1h-1zM115,526h1v1h-1zM134,526h1v1h-1zM224,526h1v1h-1zM252,526h1v1h-1zM411,526h1v1h-1zM428,526h1v1h-1zM437,526h1v1h-1zM457,526h1v1h-1zM565,526h1v1h-1zM578,526h1v1h-1zM685,526h1v1h-1zM691,526h3v1h-3zM807,526h1v1h-1zM822,526h1v1h-1zM877,526h1v1h-1zM886,526h1v1h-1zM959,526h1v1h-1zM979,526h1v1h-1zM991,526h1v1h-1zM49,527h1v1h-1zM54,527h1v1h-1zM115,527h1v1h-1zM133,527h1v1h-1zM224,527h1v1h-1zM251,527h1v1h-1zM411,527h1v1h-1zM427,527h1v1h-1zM437,527h1v1h-1zM457,527h1v1h-1zM565,527h1v1h-1zM577,527h1v1h-1zM685,527h6v1h-6zM807,527h1v1h-1zM822,527h1v1h-1zM877,527h6v1h-6zM885,527h1v1h-1zM959,527h1v1h-1zM979,527h1v1h-1zM992,527h1v1h-1zM50,528h2v1h-2zM53,528h1v1h-1zM116,528h1v1h-1zM133,528h1v1h-1zM224,528h1v1h-1zM251,528h1v1h-1zM411,528h1v1h-1zM427,528h1v1h-1zM438,528h1v1h-1zM456,528h1v1h-1zM566,528h1v1h-1zM577,528h1v1h-1zM807,528h1v1h-1zM822,528h1v1h-1zM883,528h3v1h-3zM960,528h1v1h-1zM979,528h1v1h-1zM993,528h1v1h-1zM52,529h2v1h-2zM116,529h1v1h-1zM132,529h1v1h-1zM224,529h1v1h-1zM251,529h1v1h-1zM411,529h1v1h-1zM426,529h1v1h-1zM438,529h1v1h-1zM456,529h1v1h-1zM566,529h1v1h-1zM576,529h1v1h-1zM808,529h1v1h-1zM821,529h1v1h-1zM960,529h1v1h-1zM979,529h1v1h-1zM116,530h1v1h-1zM132,530h1v1h-1zM225,530h1v1h-1zM250,530h1v1h-1zM412,530h1v1h-1zM425,530h1v1h-1zM439,530h1v1h-1zM455,530h1v1h-1zM567,530h1v1h-1zM576,530h1v1h-1zM808,530h1v1h-1zM821,530h1v1h-1zM960,530h1v1h-1zM978,530h1v1h-1zM116,531h1v1h-1zM131,531h1v1h-1zM225,531h1v1h-1zM250,531h1v1h-1zM412,531h1v1h-1zM424,531h1v1h-1zM440,531h1v1h-1zM455,531h1v1h-1zM567,531h1v1h-1zM575,531h1v1h-1zM809,531h1v1h-1zM820,531h1v1h-1zM960,531h1v1h-1zM965,531h1v1h-1zM978,531h1v1h-1zM117,532h1v1h-1zM130,532h1v1h-1zM225,532h1v1h-1zM249,532h1v1h-1zM412,532h1v1h-1zM423,532h1v1h-1zM440,532h1v1h-1zM454,532h1v1h-1zM568,532h1v1h-1zM574,532h1v1h-1zM809,532h1v1h-1zM820,532h1v1h-1zM961,532h1v1h-1zM963,532h2v1h-2zM966,532h2v1h-2zM971,532h3v1h-3zM978,532h1v1h-1zM117,533h1v1h-1zM130,533h1v1h-1zM226,533h1v1h-1zM243,533h7v1h-7zM413,533h1v1h-1zM423,533h1v1h-1zM441,533h1v1h-1zM454,533h1v1h-1zM568,533h1v1h-1zM574,533h1v1h-1zM810,533h1v1h-1zM819,533h1v1h-1zM961,533h2v1h-2zM968,533h3v1h-3zM974,533h1v1h-1zM978,533h1v1h-1zM118,534h1v1h-1zM128,534h2v1h-2zM227,534h1v1h-1zM237,534h6v1h-6zM413,534h2v1h-2zM422,534h1v1h-1zM442,534h1v1h-1zM448,534h6v1h-6zM569,534h1v1h-1zM571,534h3v1h-3zM811,534h1v1h-1zM818,534h1v1h-1zM961,534h1v1h-1zM975,534h3v1h-3zM119,535h2v1h-2zM126,535h2v1h-2zM227,535h1v1h-1zM235,535h2v1h-2zM415,535h7v1h-7zM443,535h2v1h-2zM446,535h2v1h-2zM569,535h2v1h-2zM812,535h1v1h-1zM818,535h1v1h-1zM977,535h1v1h-1zM121,536h5v1h-5zM228,536h1v1h-1zM234,536h1v1h-1zM445,536h1v1h-1zM813,536h5v1h-5zM229,537h5v1h-5z"/>
<path fill="#ff0000" d="M859,477h3v1h-3zM852,478h7v1h-7zM862,478h2v1h-2zM850,479h2v1h-2zM864,479h2v1h-2zM31,480h4v1h-4zM849,480h1v1h-1zM866,480h1v1h-1zM941,480h1v1h-1zM29,481h2v1h-2zM35,481h3v1h-3zM501,481h2v1h-2zM848,481h1v1h-1zM867,481h1v1h-1zM940,481h1v1h-1zM942,481h2v1h-2zM27,482h2v1h-2zM38,482h1v1h-1zM353,482h5v1h-5zM501,482h1v1h-1zM503,482h3v1h-3zM668,482h3v1h-3zM848,482h1v1h-1zM867,482h1v1h-1zM939,482h1v1h-1zM944,482h2v1h-2zM26,483h1v1h-1zM38,483h1v1h-1zM353,483h1v1h-1zM358,483h1v1h-1zM500,483h1v1h-1zM506,483h1v1h-1zM666,483h2v1h-2zM671,483h3v1h-3zM781,483h1v1h-1zM847,483h1v1h-1zM868,483h1v1h-1zM938,483h1v1h-1zM946,483h1v1h-1zM19,484h7v1h-7zM39,484h1v1h-1zM155,484h3v1h-3zM297,484h1v1h-1zM352,484h1v1h-1zM359,484h1v1h-1zM393,484h5v1h-5zM500,484h1v1h-1zM506,484h1v1h-1zM665,484h1v1h-1zM674,484h1v1h-1zM715,484h3v1h-3zM779,484h2v1h-2zM782,484h1v1h-1zM847,484h1v1h-1zM869,484h1v1h-1zM937,484h1v1h-1zM947,484h1v1h-1zM17,485h2v1h-2zM39,485h1v1h-1zM153,485h2v1h-2zM158,485h1v1h-1zM187,485h3v1h-3zM296,485h1v1h-1zM298,485h1v1h-1zM352,485h1v1h-1zM360,485h1v1h-1zM393,485h1v1h-1zM398,485h1v1h-1zM499,485h1v1h-1zM507,485h1v1h-1zM545,485h5v1h-5zM629,485h1v1h-1zM664,485h1v1h-1zM675,485h2v1h-2zM713,485h2v1h-2zM718,485h2v1h-2zM778,485h1v1h-1zM783,485h1v1h-1zM846,485h1v1h-1zM869,485h1v1h-1zM936,485h1v1h-1zM948,485h1v1h-1zM16,486h1v1h-1zM40,486h1v1h-1zM105,486h1v1h-1zM152,486h1v1h-1zM159,486h1v1h-1zM176,486h3v1h-3zM183,486h4v1h-4zM190,486h2v1h-2zM296,486h1v1h-1zM299,486h1v1h-1zM351,486h1v1h-1zM361,486h1v1h-1zM392,486h1v1h-1zM398,486h1v1h-1zM499,486h1v1h-1zM508,486h1v1h-1zM543,486h2v1h-2zM550,486h1v1h-1zM628,486h1v1h-1zM630,486h2v1h-2zM664,486h1v1h-1zM677,486h1v1h-1zM712,486h1v1h-1zM720,486h2v1h-2zM777,486h1v1h-1zM784,486h1v1h-1zM846,486h1v1h-1zM870,486h1v1h-1zM935,486h1v1h-1zM949,486h1v1h-1zM15,487h1v1h-1zM40,487h1v1h-1zM104,487h1v1h-1zM106,487h1v1h-1zM151,487h1v1h-1zM160,487h1v1h-1zM174,487h2v1h-2zM179,487h4v1h-4zM192,487h2v1h-2zM295,487h1v1h-1zM300,487h1v1h-1zM351,487h1v1h-1zM362,487h1v1h-1zM392,487h1v1h-1zM399,487h1v1h-1zM498,487h1v1h-1zM508,487h1v1h-1zM542,487h1v1h-1zM550,487h1v1h-1zM628,487h1v1h-1zM632,487h2v1h-2zM663,487h1v1h-1zM677,487h1v1h-1zM711,487h1v1h-1zM722,487h1v1h-1zM777,487h1v1h-1zM785,487h1v1h-1zM845,487h1v1h-1zM870,487h1v1h-1zM935,487h1v1h-1zM950,487h1v1h-1zM15,488h1v1h-1zM41,488h1v1h-1zM103,488h1v1h-1zM107,488h2v1h-2zM151,488h1v1h-1zM161,488h1v1h-1zM172,488h2v1h-2zM194,488h1v1h-1zM295,488h1v1h-1zM301,488h1v1h-1zM350,488h1v1h-1zM363,488h1v1h-1zM391,488h1v1h-1zM400,488h1v1h-1zM498,488h1v1h-1zM509,488h1v1h-1zM541,488h1v1h-1zM551,488h1v1h-1zM627,488h1v1h-1zM633,488h1v1h-1zM662,488h1v1h-1zM678,488h1v1h-1zM711,488h1v1h-1zM723,488h1v1h-1zM755,488h3v1h-3zM776,488h1v1h-1zM785,488h1v1h-1zM845,488h1v1h-1zM870,488h1v1h-1zM934,488h1v1h-1zM950,488h1v1h-1zM14,489h1v1h-1zM41,489h1v1h-1zM103,489h1v1h-1zM109,489h1v1h-1zM150,489h1v1h-1zM162,489h1v1h-1zM170,489h2v1h-2zM194,489h1v1h-1zM294,489h1v1h-1zM301,489h1v1h-1zM350,489h1v1h-1zM364,489h1v1h-1zM391,489h1v1h-1zM400,489h1v1h-1zM497,489h1v1h-1zM510,489h1v1h-1zM541,489h1v1h-1zM552,489h1v1h-1zM627,489h1v1h-1zM634,489h1v1h-1zM662,489h1v1h-1zM678,489h1v1h-1zM710,489h1v1h-1zM724,489h1v1h-1zM753,489h2v1h-2zM758,489h1v1h-1zM776,489h1v1h-1zM786,489h1v1h-1zM844,489h1v1h-1zM871,489h1v1h-1zM933,489h1v1h-1zM951,489h1v1h-1zM13,490h1v1h-1zM42,490h1v1h-1zM102,490h1v1h-1zM109,490h1v1h-1zM149,490h1v1h-1zM163,490h2v1h-2zM167,490h3v1h-3zM195,490h1v1h-1zM294,490h1v1h-1zM302,490h1v1h-1zM349,490h1v1h-1zM365,490h1v1h-1zM391,490h1v1h-1zM401,490h1v1h-1zM497,490h1v1h-1zM510,490h1v1h-1zM540,490h1v1h-1zM552,490h1v1h-1zM626,490h1v1h-1zM634,490h1v1h-1zM661,490h1v1h-1zM679,490h1v1h-1zM709,490h1v1h-1zM725,490h1v1h-1zM753,490h1v1h-1zM759,490h1v1h-1zM775,490h1v1h-1zM786,490h1v1h-1zM844,490h1v1h-1zM871,490h1v1h-1zM932,490h1v1h-1zM951,490h1v1h-1zM12,491h1v1h-1zM42,491h1v1h-1zM101,491h1v1h-1zM110,491h1v1h-1zM149,491h1v1h-1zM165,491h2v1h-2zM195,491h1v1h-1zM293,491h1v1h-1zM302,491h1v1h-1zM349,491h1v1h-1zM366,491h1v1h-1zM390,491h1v1h-1zM401,491h1v1h-1zM496,491h1v1h-1zM511,491h1v1h-1zM540,491h1v1h-1zM553,491h1v1h-1zM626,491h1v1h-1zM635,491h1v1h-1zM661,491h1v1h-1zM679,491h1v1h-1zM709,491h1v1h-1zM726,491h1v1h-1zM752,491h1v1h-1zM760,491h1v1h-1zM775,491h1v1h-1zM787,491h1v1h-1zM844,491h1v1h-1zM871,491h1v1h-1zM931,491h1v1h-1zM952,491h1v1h-1zM12,492h1v1h-1zM42,492h1v1h-1zM101,492h1v1h-1zM110,492h1v1h-1zM148,492h1v1h-1zM196,492h1v1h-1zM293,492h1v1h-1zM303,492h1v1h-1zM349,492h1v1h-1zM366,492h1v1h-1zM390,492h1v1h-1zM402,492h1v1h-1zM473,492h1v1h-1zM496,492h1v1h-1zM511,492h1v1h-1zM539,492h1v1h-1zM553,492h1v1h-1zM625,492h1v1h-1zM635,492h1v1h-1zM660,492h1v1h-1zM680,492h1v1h-1zM708,492h1v1h-1zM726,492h1v1h-1zM752,492h1v1h-1zM761,492h1v1h-1zM774,492h1v1h-1zM787,492h1v1h-1zM843,492h1v1h-1zM871,492h1v1h-1zM930,492h1v1h-1zM952,492h1v1h-1zM11,493h1v1h-1zM42,493h1v1h-1zM100,493h1v1h-1zM110,493h1v1h-1zM148,493h1v1h-1zM196,493h1v1h-1zM269,493h5v1h-5zM292,493h1v1h-1zM303,493h1v1h-1zM348,493h1v1h-1zM367,493h1v1h-1zM389,493h1v1h-1zM402,493h1v1h-1zM473,493h3v1h-3zM496,493h1v1h-1zM512,493h1v1h-1zM539,493h1v1h-1zM554,493h1v1h-1zM625,493h1v1h-1zM635,493h1v1h-1zM660,493h1v1h-1zM680,493h1v1h-1zM708,493h1v1h-1zM727,493h1v1h-1zM751,493h1v1h-1zM762,493h1v1h-1zM774,493h1v1h-1zM787,493h1v1h-1zM843,493h1v1h-1zM872,493h1v1h-1zM929,493h1v1h-1zM953,493h1v1h-1zM10,494h1v1h-1zM43,494h1v1h-1zM100,494h1v1h-1zM111,494h1v1h-1zM148,494h1v1h-1zM197,494h1v1h-1zM269,494h1v1h-1zM274,494h1v1h-1zM292,494h1v1h-1zM303,494h1v1h-1zM348,494h1v1h-1zM368,494h1v1h-1zM389,494h1v1h-1zM402,494h1v1h-1zM472,494h1v1h-1zM476,494h2v1h-2zM495,494h1v1h-1zM512,494h1v1h-1zM539,494h1v1h-1zM554,494h1v1h-1zM624,494h1v1h-1zM636,494h1v1h-1zM659,494h1v1h-1zM681,494h1v1h-1zM708,494h1v1h-1zM727,494h1v1h-1zM751,494h1v1h-1zM762,494h1v1h-1zM773,494h1v1h-1zM788,494h1v1h-1zM843,494h1v1h-1zM872,494h1v1h-1zM904,494h2v1h-2zM928,494h1v1h-1zM953,494h1v1h-1zM10,495h1v1h-1zM43,495h1v1h-1zM99,495h1v1h-1zM111,495h1v1h-1zM147,495h1v1h-1zM197,495h1v1h-1zM268,495h1v1h-1zM274,495h1v1h-1zM292,495h1v1h-1zM304,495h1v1h-1zM348,495h1v1h-1zM368,495h1v1h-1zM389,495h1v1h-1zM403,495h1v1h-1zM472,495h1v1h-1zM478,495h1v1h-1zM495,495h1v1h-1zM513,495h1v1h-1zM538,495h1v1h-1zM555,495h1v1h-1zM624,495h1v1h-1zM636,495h1v1h-1zM659,495h1v1h-1zM681,495h1v1h-1zM707,495h1v1h-1zM728,495h1v1h-1zM751,495h1v1h-1zM763,495h1v1h-1zM772,495h1v1h-1zM788,495h1v1h-1zM842,495h1v1h-1zM872,495h1v1h-1zM902,495h2v1h-2zM906,495h1v1h-1zM928,495h1v1h-1zM954,495h1v1h-1zM9,496h1v1h-1zM43,496h1v1h-1zM99,496h1v1h-1zM111,496h1v1h-1zM147,496h1v1h-1zM197,496h1v1h-1zM268,496h1v1h-1zM275,496h1v1h-1zM291,496h1v1h-1zM304,496h1v1h-1zM347,496h1v1h-1zM369,496h1v1h-1zM388,496h1v1h-1zM403,496h1v1h-1zM471,496h1v1h-1zM478,496h1v1h-1zM495,496h1v1h-1zM514,496h1v1h-1zM538,496h1v1h-1zM555,496h1v1h-1zM623,496h1v1h-1zM637,496h1v1h-1zM658,496h1v1h-1zM681,496h1v1h-1zM707,496h1v1h-1zM728,496h1v1h-1zM750,496h1v1h-1zM764,496h1v1h-1zM771,496h1v1h-1zM789,496h1v1h-1zM842,496h1v1h-1zM873,496h1v1h-1zM901,496h1v1h-1zM907,496h2v1h-2zM927,496h1v1h-1zM954,496h1v1h-1zM9,497h1v1h-1zM44,497h1v1h-1zM99,497h1v1h-1zM112,497h1v1h-1zM147,497h1v1h-1zM198,497h1v1h-1zM268,497h1v1h-1zM275,497h1v1h-1zM291,497h1v1h-1zM305,497h1v1h-1zM347,497h1v1h-1zM370,497h1v1h-1zM388,497h1v1h-1zM404,497h1v1h-1zM471,497h1v1h-1zM479,497h1v1h-1zM494,497h1v1h-1zM515,497h1v1h-1zM537,497h1v1h-1zM555,497h1v1h-1zM623,497h1v1h-1zM637,497h1v1h-1zM658,497h1v1h-1zM682,497h1v1h-1zM707,497h1v1h-1zM729,497h1v1h-1zM750,497h1v1h-1zM764,497h1v1h-1zM771,497h1v1h-1zM789,497h1v1h-1zM842,497h1v1h-1zM873,497h1v1h-1zM901,497h1v1h-1zM909,497h1v1h-1zM926,497h1v1h-1zM955,497h1v1h-1zM8,498h1v1h-1zM44,498h1v1h-1zM98,498h1v1h-1zM112,498h1v1h-1zM146,498h1v1h-1zM198,498h1v1h-1zM267,498h1v1h-1zM276,498h1v1h-1zM290,498h1v1h-1zM305,498h1v1h-1zM346,498h1v1h-1zM370,498h1v1h-1zM388,498h1v1h-1zM404,498h1v1h-1zM470,498h1v1h-1zM479,498h1v1h-1zM494,498h1v1h-1zM516,498h1v1h-1zM537,498h1v1h-1zM556,498h1v1h-1zM622,498h1v1h-1zM637,498h1v1h-1zM657,498h1v1h-1zM682,498h1v1h-1zM706,498h1v1h-1zM729,498h1v1h-1zM749,498h1v1h-1zM765,498h2v1h-2zM770,498h1v1h-1zM790,498h1v1h-1zM841,498h1v1h-1zM873,498h1v1h-1zM900,498h1v1h-1zM910,498h1v1h-1zM926,498h1v1h-1zM955,498h1v1h-1zM8,499h1v1h-1zM44,499h1v1h-1zM98,499h1v1h-1zM112,499h1v1h-1zM146,499h1v1h-1zM198,499h1v1h-1zM267,499h1v1h-1zM276,499h1v1h-1zM290,499h1v1h-1zM305,499h1v1h-1zM346,499h1v1h-1zM371,499h1v1h-1zM387,499h1v1h-1zM404,499h1v1h-1zM470,499h1v1h-1zM480,499h1v1h-1zM494,499h1v1h-1zM517,499h1v1h-1zM537,499h1v1h-1zM556,499h1v1h-1zM622,499h1v1h-1zM638,499h1v1h-1zM657,499h1v1h-1zM682,499h1v1h-1zM706,499h1v1h-1zM729,499h1v1h-1zM749,499h1v1h-1zM767,499h3v1h-3zM790,499h1v1h-1zM841,499h1v1h-1zM874,499h1v1h-1zM900,499h1v1h-1zM910,499h1v1h-1zM925,499h1v1h-1zM955,499h1v1h-1zM8,500h1v1h-1zM44,500h1v1h-1zM97,500h1v1h-1zM113,500h1v1h-1zM146,500h1v1h-1zM199,500h1v1h-1zM266,500h1v1h-1zM277,500h1v1h-1zM290,500h1v1h-1zM306,500h1v1h-1zM346,500h1v1h-1zM371,500h1v1h-1zM387,500h1v1h-1zM405,500h1v1h-1zM469,500h1v1h-1zM480,500h1v1h-1zM493,500h1v1h-1zM518,500h1v1h-1zM536,500h1v1h-1zM557,500h1v1h-1zM621,500h1v1h-1zM638,500h1v1h-1zM656,500h1v1h-1zM682,500h1v1h-1zM706,500h1v1h-1zM730,500h1v1h-1zM749,500h1v1h-1zM791,500h1v1h-1zM841,500h1v1h-1zM874,500h1v1h-1zM899,500h1v1h-1zM911,500h1v1h-1zM924,500h1v1h-1zM956,500h1v1h-1zM8,501h1v1h-1zM45,501h1v1h-1zM97,501h1v1h-1zM113,501h1v1h-1zM145,501h1v1h-1zM199,501h1v1h-1zM266,501h1v1h-1zM277,501h1v1h-1zM289,501h1v1h-1zM306,501h1v1h-1zM345,501h1v1h-1zM372,501h1v1h-1zM387,501h1v1h-1zM405,501h1v1h-1zM469,501h1v1h-1zM481,501h1v1h-1zM493,501h1v1h-1zM519,501h2v1h-2zM536,501h1v1h-1zM557,501h1v1h-1zM620,501h1v1h-1zM638,501h1v1h-1zM656,501h1v1h-1zM683,501h1v1h-1zM705,501h1v1h-1zM730,501h1v1h-1zM748,501h1v1h-1zM792,501h1v1h-1zM840,501h1v1h-1zM874,501h1v1h-1zM899,501h1v1h-1zM911,501h1v1h-1zM924,501h1v1h-1zM956,501h1v1h-1zM7,502h1v1h-1zM45,502h1v1h-1zM69,502h1v1h-1zM96,502h1v1h-1zM113,502h1v1h-1zM145,502h1v1h-1zM199,502h1v1h-1zM266,502h1v1h-1zM278,502h1v1h-1zM289,502h1v1h-1zM306,502h1v1h-1zM345,502h1v1h-1zM372,502h1v1h-1zM386,502h1v1h-1zM405,502h1v1h-1zM468,502h1v1h-1zM481,502h1v1h-1zM493,502h1v1h-1zM521,502h1v1h-1zM535,502h1v1h-1zM557,502h1v1h-1zM619,502h1v1h-1zM639,502h1v1h-1zM655,502h1v1h-1zM683,502h1v1h-1zM705,502h1v1h-1zM730,502h1v1h-1zM748,502h1v1h-1zM792,502h1v1h-1zM840,502h1v1h-1zM874,502h1v1h-1zM899,502h1v1h-1zM912,502h1v1h-1zM923,502h1v1h-1zM957,502h1v1h-1zM7,503h1v1h-1zM45,503h1v1h-1zM67,503h2v1h-2zM70,503h1v1h-1zM96,503h1v1h-1zM114,503h1v1h-1zM145,503h1v1h-1zM199,503h1v1h-1zM265,503h1v1h-1zM278,503h1v1h-1zM289,503h1v1h-1zM307,503h1v1h-1zM345,503h1v1h-1zM373,503h1v1h-1zM386,503h1v1h-1zM406,503h1v1h-1zM468,503h1v1h-1zM482,503h1v1h-1zM492,503h1v1h-1zM522,503h1v1h-1zM535,503h1v1h-1zM558,503h1v1h-1zM618,503h1v1h-1zM639,503h1v1h-1zM655,503h1v1h-1zM683,503h1v1h-1zM705,503h1v1h-1zM731,503h1v1h-1zM747,503h1v1h-1zM793,503h1v1h-1zM839,503h1v1h-1zM875,503h1v1h-1zM898,503h1v1h-1zM912,503h1v1h-1zM922,503h1v1h-1zM957,503h1v1h-1zM7,504h1v1h-1zM46,504h1v1h-1zM66,504h1v1h-1zM71,504h1v1h-1zM95,504h1v1h-1zM114,504h1v1h-1zM144,504h1v1h-1zM200,504h1v1h-1zM265,504h1v1h-1zM278,504h1v1h-1zM288,504h1v1h-1zM307,504h1v1h-1zM344,504h1v1h-1zM373,504h1v1h-1zM386,504h1v1h-1zM406,504h1v1h-1zM468,504h1v1h-1zM482,504h1v1h-1zM492,504h1v1h-1zM523,504h1v1h-1zM534,504h1v1h-1zM558,504h1v1h-1zM593,504h5v1h-5zM611,504h7v1h-7zM639,504h1v1h-1zM655,504h1v1h-1zM684,504h1v1h-1zM704,504h1v1h-1zM731,504h1v1h-1zM747,504h1v1h-1zM794,504h2v1h-2zM839,504h1v1h-1zM875,504h1v1h-1zM898,504h1v1h-1zM913,504h1v1h-1zM922,504h1v1h-1zM957,504h1v1h-1zM7,505h1v1h-1zM46,505h1v1h-1zM65,505h1v1h-1zM71,505h1v1h-1zM95,505h1v1h-1zM114,505h1v1h-1zM144,505h1v1h-1zM200,505h1v1h-1zM265,505h1v1h-1zM279,505h1v1h-1zM288,505h1v1h-1zM307,505h1v1h-1zM344,505h1v1h-1zM373,505h1v1h-1zM385,505h1v1h-1zM406,505h1v1h-1zM467,505h1v1h-1zM483,505h1v1h-1zM491,505h1v1h-1zM524,505h1v1h-1zM534,505h1v1h-1zM559,505h1v1h-1zM591,505h2v1h-2zM598,505h2v1h-2zM607,505h4v1h-4zM639,505h1v1h-1zM654,505h1v1h-1zM684,505h1v1h-1zM704,505h1v1h-1zM732,505h1v1h-1zM747,505h1v1h-1zM796,505h3v1h-3zM838,505h1v1h-1zM875,505h1v1h-1zM897,505h1v1h-1zM914,505h1v1h-1zM921,505h1v1h-1zM958,505h1v1h-1zM6,506h1v1h-1zM46,506h1v1h-1zM65,506h1v1h-1zM72,506h1v1h-1zM94,506h1v1h-1zM114,506h1v1h-1zM144,506h1v1h-1zM200,506h1v1h-1zM217,506h2v1h-2zM264,506h1v1h-1zM279,506h1v1h-1zM287,506h1v1h-1zM307,506h1v1h-1zM343,506h1v1h-1zM374,506h1v1h-1zM385,506h1v1h-1zM407,506h1v1h-1zM467,506h1v1h-1zM483,506h1v1h-1zM491,506h1v1h-1zM525,506h1v1h-1zM533,506h1v1h-1zM559,506h1v1h-1zM590,506h1v1h-1zM600,506h7v1h-7zM640,506h1v1h-1zM654,506h1v1h-1zM684,506h1v1h-1zM704,506h1v1h-1zM732,506h1v1h-1zM746,506h1v1h-1zM799,506h3v1h-3zM838,506h1v1h-1zM875,506h1v1h-1zM897,506h1v1h-1zM915,506h1v1h-1zM919,506h2v1h-2zM958,506h1v1h-1zM6,507h1v1h-1zM46,507h1v1h-1zM64,507h1v1h-1zM73,507h1v1h-1zM94,507h1v1h-1zM115,507h1v1h-1zM143,507h1v1h-1zM201,507h1v1h-1zM216,507h1v1h-1zM219,507h3v1h-3zM264,507h1v1h-1zM280,507h1v1h-1zM287,507h1v1h-1zM308,507h1v1h-1zM343,507h1v1h-1zM374,507h1v1h-1zM385,507h1v1h-1zM407,507h1v1h-1zM467,507h1v1h-1zM484,507h1v1h-1zM491,507h1v1h-1zM526,507h1v1h-1zM532,507h1v1h-1zM560,507h1v1h-1zM589,507h1v1h-1zM640,507h1v1h-1zM653,507h1v1h-1zM684,507h1v1h-1zM703,507h1v1h-1zM732,507h1v1h-1zM746,507h1v1h-1zM802,507h1v1h-1zM837,507h1v1h-1zM876,507h1v1h-1zM897,507h1v1h-1zM916,507h1v1h-1zM918,507h1v1h-1zM958,507h1v1h-1zM6,508h1v1h-1zM47,508h1v1h-1zM64,508h1v1h-1zM73,508h1v1h-1zM93,508h1v1h-1zM115,508h1v1h-1zM143,508h1v1h-1zM201,508h1v1h-1zM215,508h1v1h-1zM221,508h1v1h-1zM264,508h1v1h-1zM280,508h1v1h-1zM287,508h1v1h-1zM308,508h1v1h-1zM342,508h1v1h-1zM375,508h1v1h-1zM384,508h1v1h-1zM408,508h1v1h-1zM466,508h1v1h-1zM484,508h1v1h-1zM490,508h1v1h-1zM527,508h1v1h-1zM531,508h1v1h-1zM560,508h1v1h-1zM589,508h1v1h-1zM640,508h1v1h-1zM653,508h1v1h-1zM685,508h1v1h-1zM703,508h1v1h-1zM733,508h1v1h-1zM745,508h1v1h-1zM803,508h1v1h-1zM836,508h1v1h-1zM876,508h1v1h-1zM896,508h1v1h-1zM917,508h1v1h-1zM958,508h1v1h-1zM6,509h1v1h-1zM47,509h1v1h-1zM64,509h1v1h-1zM74,509h1v1h-1zM92,509h1v1h-1zM115,509h1v1h-1zM143,509h1v1h-1zM202,509h1v1h-1zM214,509h1v1h-1zM222,509h1v1h-1zM263,509h1v1h-1zM280,509h1v1h-1zM286,509h1v1h-1zM308,509h1v1h-1zM342,509h1v1h-1zM375,509h1v1h-1zM384,509h1v1h-1zM408,509h1v1h-1zM466,509h1v1h-1zM485,509h1v1h-1zM490,509h1v1h-1zM527,509h1v1h-1zM531,509h1v1h-1zM561,509h1v1h-1zM588,509h1v1h-1zM641,509h1v1h-1zM653,509h1v1h-1zM685,509h1v1h-1zM703,509h1v1h-1zM733,509h1v1h-1zM745,509h1v1h-1zM803,509h1v1h-1zM836,509h1v1h-1zM876,509h1v1h-1zM896,509h1v1h-1zM959,509h1v1h-1zM5,510h1v1h-1zM47,510h1v1h-1zM63,510h1v1h-1zM74,510h1v1h-1zM92,510h1v1h-1zM115,510h1v1h-1zM143,510h1v1h-1zM202,510h1v1h-1zM213,510h1v1h-1zM222,510h1v1h-1zM263,510h1v1h-1zM281,510h1v1h-1zM286,510h1v1h-1zM309,510h1v1h-1zM341,510h1v1h-1zM376,510h1v1h-1zM383,510h1v1h-1zM408,510h1v1h-1zM466,510h1v1h-1zM485,510h2v1h-2zM489,510h1v1h-1zM528,510h1v1h-1zM530,510h1v1h-1zM561,510h1v1h-1zM588,510h1v1h-1zM641,510h1v1h-1zM652,510h1v1h-1zM685,510h1v1h-1zM703,510h1v1h-1zM734,510h1v1h-1zM745,510h1v1h-1zM804,510h1v1h-1zM835,510h1v1h-1zM876,510h1v1h-1zM895,510h1v1h-1zM959,510h1v1h-1zM5,511h1v1h-1zM48,511h1v1h-1zM63,511h1v1h-1zM75,511h1v1h-1zM91,511h1v1h-1zM116,511h1v1h-1zM142,511h1v1h-1zM203,511h1v1h-1zM212,511h1v1h-1zM223,511h1v1h-1zM262,511h1v1h-1zM281,511h2v1h-2zM285,511h1v1h-1zM309,511h1v1h-1zM340,511h1v1h-1zM376,511h1v1h-1zM383,511h1v1h-1zM409,511h1v1h-1zM465,511h1v1h-1zM487,511h3v1h-3zM529,511h1v1h-1zM561,511h1v1h-1zM587,511h1v1h-1zM642,511h1v1h-1zM652,511h1v1h-1zM686,511h1v1h-1zM702,511h1v1h-1zM734,511h1v1h-1zM744,511h1v1h-1zM805,511h1v1h-1zM835,511h1v1h-1zM877,511h1v1h-1zM895,511h1v1h-1zM959,511h1v1h-1zM48,512h1v1h-1zM63,512h1v1h-1zM75,512h1v1h-1zM90,512h1v1h-1zM116,512h1v1h-1zM142,512h1v1h-1zM203,512h1v1h-1zM211,512h1v1h-1zM223,512h1v1h-1zM262,512h1v1h-1zM283,512h3v1h-3zM310,512h1v1h-1zM339,512h1v1h-1zM377,512h1v1h-1zM382,512h1v1h-1zM409,512h1v1h-1zM465,512h1v1h-1zM562,512h1v1h-1zM587,512h1v1h-1zM642,512h1v1h-1zM651,512h1v1h-1zM686,512h1v1h-1zM702,512h1v1h-1zM735,512h1v1h-1zM744,512h1v1h-1zM805,512h1v1h-1zM834,512h1v1h-1zM877,512h1v1h-1zM895,512h1v1h-1zM960,512h1v1h-1zM48,513h1v1h-1zM62,513h1v1h-1zM76,513h1v1h-1zM90,513h1v1h-1zM116,513h1v1h-1zM142,513h1v1h-1zM204,513h1v1h-1zM211,513h1v1h-1zM224,513h1v1h-1zM262,513h1v1h-1zM310,513h1v1h-1zM338,513h1v1h-1zM377,513h1v1h-1zM382,513h1v1h-1zM409,513h1v1h-1zM465,513h1v1h-1zM562,513h1v1h-1zM587,513h1v1h-1zM643,513h1v1h-1zM651,513h1v1h-1zM686,513h1v1h-1zM702,513h1v1h-1zM735,513h1v1h-1zM743,513h1v1h-1zM806,513h1v1h-1zM834,513h1v1h-1zM877,513h1v1h-1zM894,513h1v1h-1zM960,513h1v1h-1zM48,514h1v1h-1zM62,514h1v1h-1zM76,514h1v1h-1zM89,514h1v1h-1zM116,514h1v1h-1zM141,514h1v1h-1zM204,514h1v1h-1zM210,514h1v1h-1zM224,514h1v1h-1zM261,514h1v1h-1zM311,514h1v1h-1zM337,514h1v1h-1zM378,514h2v1h-2zM381,514h1v1h-1zM410,514h1v1h-1zM464,514h1v1h-1zM563,514h1v1h-1zM586,514h1v1h-1zM643,514h1v1h-1zM650,514h1v1h-1zM687,514h1v1h-1zM701,514h1v1h-1zM736,514h1v1h-1zM743,514h1v1h-1zM806,514h1v1h-1zM833,514h1v1h-1zM878,514h1v1h-1zM894,514h1v1h-1zM960,514h1v1h-1zM49,515h1v1h-1zM62,515h1v1h-1zM77,515h1v1h-1zM87,515h2v1h-2zM117,515h1v1h-1zM141,515h1v1h-1zM205,515h5v1h-5zM225,515h1v1h-1zM261,515h1v1h-1zM311,515h1v1h-1zM336,515h1v1h-1zM380,515h2v1h-2zM410,515h1v1h-1zM464,515h1v1h-1zM563,515h1v1h-1zM586,515h1v1h-1zM644,515h1v1h-1zM650,515h1v1h-1zM687,515h1v1h-1zM701,515h1v1h-1zM736,515h1v1h-1zM742,515h1v1h-1zM806,515h1v1h-1zM832,515h1v1h-1zM878,515h1v1h-1zM893,515h1v1h-1zM960,515h1v1h-1zM49,516h1v1h-1zM61,516h1v1h-1zM77,516h1v1h-1zM86,516h1v1h-1zM117,516h1v1h-1zM141,516h1v1h-1zM225,516h1v1h-1zM261,516h1v1h-1zM312,516h1v1h-1zM335,516h1v1h-1zM410,516h1v1h-1zM464,516h1v1h-1zM564,516h1v1h-1zM585,516h1v1h-1zM644,516h1v1h-1zM648,516h2v1h-2zM687,516h1v1h-1zM701,516h1v1h-1zM737,516h1v1h-1zM742,516h1v1h-1zM807,516h1v1h-1zM831,516h1v1h-1zM878,516h1v1h-1zM893,516h1v1h-1zM961,516h1v1h-1zM49,517h1v1h-1zM61,517h1v1h-1zM78,517h1v1h-1zM84,517h2v1h-2zM117,517h1v1h-1zM140,517h1v1h-1zM225,517h1v1h-1zM260,517h1v1h-1zM312,517h1v1h-1zM334,517h1v1h-1zM411,517h1v1h-1zM463,517h1v1h-1zM564,517h1v1h-1zM585,517h1v1h-1zM645,517h3v1h-3zM688,517h1v1h-1zM700,517h1v1h-1zM737,517h2v1h-2zM741,517h1v1h-1zM807,517h1v1h-1zM831,517h1v1h-1zM879,517h1v1h-1zM893,517h1v1h-1zM961,517h1v1h-1zM50,518h1v1h-1zM60,518h1v1h-1zM79,518h2v1h-2zM82,518h2v1h-2zM118,518h1v1h-1zM140,518h1v1h-1zM226,518h1v1h-1zM260,518h1v1h-1zM313,518h1v1h-1zM333,518h1v1h-1zM411,518h1v1h-1zM463,518h1v1h-1zM565,518h1v1h-1zM585,518h1v1h-1zM645,518h1v1h-1zM688,518h1v1h-1zM700,518h1v1h-1zM739,518h3v1h-3zM808,518h1v1h-1zM830,518h1v1h-1zM879,518h1v1h-1zM892,518h1v1h-1zM961,518h1v1h-1zM50,519h1v1h-1zM60,519h1v1h-1zM81,519h1v1h-1zM118,519h1v1h-1zM140,519h1v1h-1zM226,519h1v1h-1zM259,519h1v1h-1zM313,519h1v1h-1zM331,519h2v1h-2zM412,519h1v1h-1zM463,519h1v1h-1zM565,519h1v1h-1zM584,519h1v1h-1zM688,519h1v1h-1zM699,519h1v1h-1zM808,519h1v1h-1zM829,519h1v1h-1zM880,519h1v1h-1zM892,519h1v1h-1zM962,519h1v1h-1zM51,520h1v1h-1zM59,520h1v1h-1zM118,520h1v1h-1zM139,520h1v1h-1zM227,520h1v1h-1zM259,520h1v1h-1zM314,520h2v1h-2zM330,520h1v1h-1zM412,520h1v1h-1zM463,520h1v1h-1zM566,520h1v1h-1zM584,520h1v1h-1zM689,520h1v1h-1zM699,520h1v1h-1zM808,520h1v1h-1zM829,520h1v1h-1zM880,520h1v1h-1zM891,520h1v1h-1zM962,520h1v1h-1zM51,521h1v1h-1zM59,521h1v1h-1zM119,521h1v1h-1zM139,521h1v1h-1zM227,521h1v1h-1zM259,521h1v1h-1zM316,521h7v1h-7zM327,521h3v1h-3zM412,521h1v1h-1zM462,521h1v1h-1zM566,521h1v1h-1zM583,521h1v1h-1zM689,521h1v1h-1zM698,521h1v1h-1zM809,521h1v1h-1zM828,521h1v1h-1zM880,521h1v1h-1zM891,521h1v1h-1zM963,521h1v1h-1zM52,522h1v1h-1zM58,522h1v1h-1zM119,522h1v1h-1zM138,522h1v1h-1zM227,522h1v1h-1zM258,522h1v1h-1zM323,522h4v1h-4zM413,522h1v1h-1zM462,522h1v1h-1zM567,522h1v1h-1zM583,522h1v1h-1zM690,522h1v1h-1zM698,522h1v1h-1zM809,522h1v1h-1zM828,522h1v1h-1zM881,522h1v1h-1zM890,522h1v1h-1zM963,522h1v1h-1zM989,522h1v1h-1zM52,523h1v1h-1zM58,523h1v1h-1zM119,523h1v1h-1zM138,523h1v1h-1zM228,523h1v1h-1zM258,523h1v1h-1zM413,523h1v1h-1zM462,523h1v1h-1zM567,523h1v1h-1zM582,523h1v1h-1zM690,523h1v1h-1zM697,523h1v1h-1zM810,523h1v1h-1zM827,523h1v1h-1zM881,523h1v1h-1zM890,523h1v1h-1zM963,523h1v1h-1zM987,523h2v1h-2zM990,523h1v1h-1zM53,524h1v1h-1zM55,524h3v1h-3zM119,524h1v1h-1zM138,524h1v1h-1zM228,524h1v1h-1zM257,524h1v1h-1zM414,524h1v1h-1zM435,524h3v1h-3zM461,524h1v1h-1zM568,524h1v1h-1zM582,524h1v1h-1zM691,524h1v1h-1zM696,524h1v1h-1zM810,524h1v1h-1zM827,524h1v1h-1zM882,524h1v1h-1zM889,524h1v1h-1zM964,524h1v1h-1zM986,524h1v1h-1zM991,524h2v1h-2zM53,525h2v1h-2zM120,525h1v1h-1zM137,525h1v1h-1zM229,525h1v1h-1zM257,525h1v1h-1zM414,525h1v1h-1zM433,525h2v1h-2zM438,525h2v1h-2zM461,525h1v1h-1zM568,525h1v1h-1zM581,525h1v1h-1zM692,525h1v1h-1zM695,525h1v1h-1zM811,525h1v1h-1zM826,525h1v1h-1zM883,525h1v1h-1zM887,525h2v1h-2zM964,525h1v1h-1zM985,525h1v1h-1zM993,525h1v1h-1zM120,526h1v1h-1zM137,526h1v1h-1zM229,526h1v1h-1zM256,526h1v1h-1zM415,526h1v1h-1zM432,526h1v1h-1zM440,526h2v1h-2zM460,526h1v1h-1zM569,526h1v1h-1zM581,526h1v1h-1zM692,526h1v1h-1zM694,526h1v1h-1zM811,526h1v1h-1zM826,526h1v1h-1zM884,526h1v1h-1zM886,526h1v1h-1zM965,526h1v1h-1zM984,526h1v1h-1zM120,527h1v1h-1zM136,527h1v1h-1zM229,527h1v1h-1zM255,527h1v1h-1zM415,527h1v1h-1zM431,527h1v1h-1zM442,527h1v1h-1zM460,527h1v1h-1zM569,527h1v1h-1zM580,527h1v1h-1zM693,527h1v1h-1zM812,527h1v1h-1zM825,527h1v1h-1zM885,527h1v1h-1zM965,527h1v1h-1zM983,527h1v1h-1zM121,528h1v1h-1zM136,528h1v1h-1zM230,528h1v1h-1zM255,528h1v1h-1zM416,528h1v1h-1zM431,528h1v1h-1zM442,528h1v1h-1zM459,528h1v1h-1zM570,528h1v1h-1zM580,528h1v1h-1zM812,528h1v1h-1zM825,528h1v1h-1zM966,528h1v1h-1zM982,528h1v1h-1zM121,529h1v1h-1zM135,529h1v1h-1zM230,529h1v1h-1zM254,529h1v1h-1zM416,529h1v1h-1zM430,529h1v1h-1zM443,529h1v1h-1zM458,529h1v1h-1zM571,529h1v1h-1zM579,529h1v1h-1zM813,529h1v1h-1zM824,529h1v1h-1zM966,529h1v1h-1zM981,529h1v1h-1zM122,530h1v1h-1zM135,530h1v1h-1zM231,530h1v1h-1zM253,530h1v1h-1zM417,530h1v1h-1zM429,530h1v1h-1zM444,530h1v1h-1zM458,530h1v1h-1zM571,530h1v1h-1zM578,530h1v1h-1zM813,530h1v1h-1zM824,530h1v1h-1zM967,530h1v1h-1zM980,530h1v1h-1zM122,531h1v1h-1zM134,531h1v1h-1zM231,531h1v1h-1zM252,531h1v1h-1zM418,531h1v1h-1zM427,531h2v1h-2zM444,531h1v1h-1zM457,531h1v1h-1zM572,531h1v1h-1zM578,531h1v1h-1zM814,531h1v1h-1zM823,531h1v1h-1zM968,531h1v1h-1zM979,531h1v1h-1zM123,532h1v1h-1zM134,532h1v1h-1zM232,532h1v1h-1zM251,532h1v1h-1zM419,532h1v1h-1zM426,532h1v1h-1zM445,532h1v1h-1zM456,532h1v1h-1zM573,532h5v1h-5zM815,532h1v1h-1zM822,532h1v1h-1zM968,532h1v1h-1zM971,532h4v1h-4zM978,532h1v1h-1zM124,533h1v1h-1zM132,533h2v1h-2zM232,533h1v1h-1zM250,533h1v1h-1zM419,533h1v1h-1zM424,533h2v1h-2zM446,533h2v1h-2zM455,533h1v1h-1zM815,533h1v1h-1zM822,533h1v1h-1zM969,533h2v1h-2zM975,533h3v1h-3zM124,534h1v1h-1zM130,534h2v1h-2zM233,534h1v1h-1zM243,534h7v1h-7zM420,534h1v1h-1zM422,534h2v1h-2zM448,534h3v1h-3zM454,534h1v1h-1zM816,534h1v1h-1zM819,534h3v1h-3zM125,535h5v1h-5zM233,535h2v1h-2zM239,535h4v1h-4zM421,535h1v1h-1zM451,535h3v1h-3zM817,535h2v1h-2zM235,536h4v1h-4z"/>
</g></svg>
<polygon points="8,11 15,11 11.5,15" fill="#000"/>
<text x="20" y="16" font-size="9.7" fill="#000" stroke="#000" stroke-width="0.05" text-anchor="start" textLength="53.5" lengthAdjust="spacingAndGlyphs" >BTCUSD,H4</text>
<text x="80.3" y="16" font-size="9.7" fill="#000" stroke="#000" stroke-width="0.05" text-anchor="start" textLength="24.5" lengthAdjust="spacingAndGlyphs" >74312</text>
<text x="108.4" y="16" font-size="9.7" fill="#000" stroke="#000" stroke-width="0.05" text-anchor="start" textLength="24.5" lengthAdjust="spacingAndGlyphs" >74618</text>
<text x="136.5" y="16" font-size="9.7" fill="#000" stroke="#000" stroke-width="0.05" text-anchor="start" textLength="24.5" lengthAdjust="spacingAndGlyphs" >73608</text>
<text x="164.60000000000002" y="16" font-size="9.7" fill="#000" stroke="#000" stroke-width="0.05" text-anchor="start" textLength="24.5" lengthAdjust="spacingAndGlyphs" >74578</text>
<text x="9" y="479" font-size="9.7" fill="#000" stroke="#000" stroke-width="0.05" text-anchor="start" textLength="113" lengthAdjust="spacingAndGlyphs" >Sto(5,3,3) 19.7157 24.5086</text>
<text x="1243" y="36" font-size="9.7" fill="#000" stroke="#000" stroke-width="0.05" text-anchor="start" textLength="25" lengthAdjust="spacingAndGlyphs" >78023</text>
<text x="1243" y="69" font-size="9.7" fill="#000" stroke="#000" stroke-width="0.05" text-anchor="start" textLength="25" lengthAdjust="spacingAndGlyphs" >77003</text>
<text x="1243" y="102" font-size="9.7" fill="#000" stroke="#000" stroke-width="0.05" text-anchor="start" textLength="25" lengthAdjust="spacingAndGlyphs" >75983</text>
<text x="1243" y="135" font-size="9.7" fill="#000" stroke="#000" stroke-width="0.05" text-anchor="start" textLength="25" lengthAdjust="spacingAndGlyphs" >74933</text>
<text x="1243" y="168" font-size="9.7" fill="#000" stroke="#000" stroke-width="0.05" text-anchor="start" textLength="25" lengthAdjust="spacingAndGlyphs" >73913</text>
<text x="1243" y="201" font-size="9.7" fill="#000" stroke="#000" stroke-width="0.05" text-anchor="start" textLength="25" lengthAdjust="spacingAndGlyphs" >72863</text>
<text x="1243" y="234" font-size="9.7" fill="#000" stroke="#000" stroke-width="0.05" text-anchor="start" textLength="25" lengthAdjust="spacingAndGlyphs" >71843</text>
<text x="1243" y="267" font-size="9.7" fill="#000" stroke="#000" stroke-width="0.05" text-anchor="start" textLength="25" lengthAdjust="spacingAndGlyphs" >70823</text>
<text x="1243" y="300" font-size="9.7" fill="#000" stroke="#000" stroke-width="0.05" text-anchor="start" textLength="25" lengthAdjust="spacingAndGlyphs" >69773</text>
<text x="1243" y="333" font-size="9.7" fill="#000" stroke="#000" stroke-width="0.05" text-anchor="start" textLength="25" lengthAdjust="spacingAndGlyphs" >68753</text>
<text x="1243" y="366" font-size="9.7" fill="#000" stroke="#000" stroke-width="0.05" text-anchor="start" textLength="25" lengthAdjust="spacingAndGlyphs" >67733</text>
<text x="1243" y="399" font-size="9.7" fill="#000" stroke="#000" stroke-width="0.05" text-anchor="start" textLength="25" lengthAdjust="spacingAndGlyphs" >66683</text>
<text x="1243" y="432" font-size="9.7" fill="#000" stroke="#000" stroke-width="0.05" text-anchor="start" textLength="25" lengthAdjust="spacingAndGlyphs" >65663</text>
<text x="1243" y="465" font-size="9.7" fill="#000" stroke="#000" stroke-width="0.05" text-anchor="start" textLength="25" lengthAdjust="spacingAndGlyphs" >64643</text>
<rect x="1239" y="42" width="33" height="11" fill="#dc143c" shape-rendering="crispEdges"/>
<text x="1243" y="51" font-size="9.7" fill="#fff" stroke="#fff" stroke-width="0.05" text-anchor="start" textLength="25" lengthAdjust="spacingAndGlyphs" >77524</text>
<rect x="1239" y="98" width="33" height="11" fill="#dc143c" shape-rendering="crispEdges"/>
<text x="1243" y="107" font-size="9.7" fill="#fff" stroke="#fff" stroke-width="0.05" text-anchor="start" textLength="25" lengthAdjust="spacingAndGlyphs" >75791</text>
<rect x="1239" y="138" width="33" height="11" fill="#000000" shape-rendering="crispEdges"/>
<text x="1243" y="147" font-size="9.7" fill="#fff" stroke="#fff" stroke-width="0.05" text-anchor="start" textLength="25" lengthAdjust="spacingAndGlyphs" >74578</text>
<rect x="1239" y="171" width="33" height="11" fill="#3cb371" shape-rendering="crispEdges"/>
<text x="1243" y="180" font-size="9.7" fill="#fff" stroke="#fff" stroke-width="0.05" text-anchor="start" textLength="25" lengthAdjust="spacingAndGlyphs" >73505</text>
<text x="1241.5" y="477" font-size="9.7" fill="#000" stroke="#000" stroke-width="0.05" text-anchor="start" textLength="14.5" lengthAdjust="spacingAndGlyphs" >100</text>
<text x="1240" y="487" font-size="9.7" fill="#000" stroke="#000" stroke-width="0.05" text-anchor="start" textLength="9.5" lengthAdjust="spacingAndGlyphs" >80</text>
<text x="1240" y="532" font-size="9.7" fill="#000" stroke="#000" stroke-width="0.05" text-anchor="start" textLength="10.5" lengthAdjust="spacingAndGlyphs" >20</text>
<text x="1241" y="541" font-size="9.7" fill="#000" stroke="#000" stroke-width="0.05" text-anchor="start" textLength="5" lengthAdjust="spacingAndGlyphs" >0</text>
<text x="3.6" y="557" font-size="9.7" fill="#000" stroke="#000" stroke-width="0.05" text-anchor="start" class="tl">9 Mar 2026</text>
<text x="67.6" y="557" font-size="9.7" fill="#000" stroke="#000" stroke-width="0.05" text-anchor="start" class="tl">12 Mar 00:00</text>
<text x="131.6" y="557" font-size="9.7" fill="#000" stroke="#000" stroke-width="0.05" text-anchor="start" class="tl">14 Mar 16:00</text>
<text x="195.6" y="557" font-size="9.7" fill="#000" stroke="#000" stroke-width="0.05" text-anchor="start" class="tl">17 Mar 08:00</text>
<text x="259.6" y="557" font-size="9.7" fill="#000" stroke="#000" stroke-width="0.05" text-anchor="start" class="tl">20 Mar 00:00</text>
<text x="323.6" y="557" font-size="9.7" fill="#000" stroke="#000" stroke-width="0.05" text-anchor="start" class="tl">22 Mar 16:00</text>
<text x="387.6" y="557" font-size="9.7" fill="#000" stroke="#000" stroke-width="0.05" text-anchor="start" class="tl">25 Mar 08:00</text>
<text x="451.6" y="557" font-size="9.7" fill="#000" stroke="#000" stroke-width="0.05" text-anchor="start" class="tl">28 Mar 00:00</text>
<text x="515.6" y="557" font-size="9.7" fill="#000" stroke="#000" stroke-width="0.05" text-anchor="start" class="tl">31 Mar 04:00</text>
<text x="579.6" y="557" font-size="9.7" fill="#000" stroke="#000" stroke-width="0.05" text-anchor="start" class="tl">2 Apr 20:00</text>
<text x="643.6" y="557" font-size="9.7" fill="#000" stroke="#000" stroke-width="0.05" text-anchor="start" class="tl">5 Apr 12:00</text>
<text x="707.6" y="557" font-size="9.7" fill="#000" stroke="#000" stroke-width="0.05" text-anchor="start" class="tl">8 Apr 04:00</text>
<text x="771.6" y="557" font-size="9.7" fill="#000" stroke="#000" stroke-width="0.05" text-anchor="start" class="tl">10 Apr 20:00</text>
<text x="835.6" y="557" font-size="9.7" fill="#000" stroke="#000" stroke-width="0.05" text-anchor="start" class="tl">13 Apr 12:00</text>
<text x="899.6" y="557" font-size="9.7" fill="#000" stroke="#000" stroke-width="0.05" text-anchor="start" class="tl">16 Apr 04:00</text>
<text x="963.6" y="557" font-size="9.7" fill="#000" stroke="#000" stroke-width="0.05" text-anchor="start" class="tl">18 Apr 20:00</text>
</svg>
</body></html>
